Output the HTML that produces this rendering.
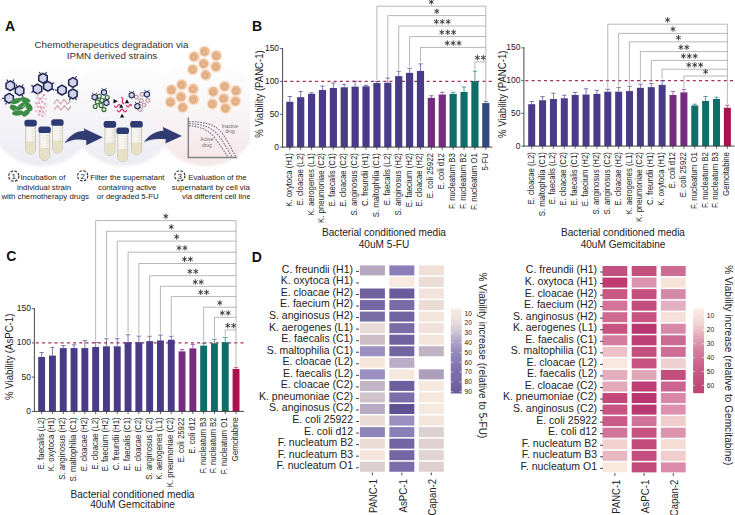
<!DOCTYPE html><html><head><meta charset="utf-8"><style>html,body{margin:0;padding:0;background:#fff;}svg{display:block;}text{font-family:"Liberation Sans", sans-serif;}</style></head><body>
<svg width="735" height="515" viewBox="0 0 735 515">
<rect x="0.00" y="0.00" width="735.00" height="515.00" fill="#fff"/>
<text x="5.00" y="31.00" font-size="14" text-anchor="start" fill="#111" font-weight="bold">A</text>
<text x="251.90" y="31.00" font-size="14" text-anchor="start" fill="#111" font-weight="bold">B</text>
<text x="6.30" y="261.30" font-size="14" text-anchor="start" fill="#111" font-weight="bold">C</text>
<text x="251.70" y="261.90" font-size="14" text-anchor="start" fill="#111" font-weight="bold">D</text>
<defs><clipPath id="clipA"><rect x="0" y="0" width="250" height="215"/></clipPath></defs><g clip-path="url(#clipA)">
<defs><linearGradient id="bg12" x1="0" y1="0" x2="0" y2="1"><stop offset="0" stop-color="#ffffff"/><stop offset="0.45" stop-color="#f6f6f9"/><stop offset="1" stop-color="#ebebf2"/></linearGradient><linearGradient id="bg3" x1="0" y1="0" x2="0" y2="1"><stop offset="0" stop-color="#ffffff"/><stop offset="0.45" stop-color="#f9f6f7"/><stop offset="1" stop-color="#f4e6e9"/></linearGradient><filter id="blr" x="-20%" y="-20%" width="140%" height="140%"><feGaussianBlur stdDeviation="1.6"/></filter></defs>
<g filter="url(#blr)">
<circle cx="41.5" cy="112" r="54" fill="url(#bg12)"/>
<circle cx="123.5" cy="112" r="54" fill="url(#bg12)"/>
<circle cx="206" cy="112" r="54" fill="url(#bg3)"/>
</g>
<text x="111.50" y="48.00" font-size="9.75" text-anchor="middle" fill="#333" font-weight="normal">Chemotherapeutics degradation via</text>
<text x="112.00" y="59.00" font-size="9.75" text-anchor="middle" fill="#333" font-weight="normal">IPMN derived strains</text>
<polygon points="10.30,80.90 14.54,83.35 14.54,88.25 10.30,90.70 6.06,88.25 6.06,83.35" fill="#d2d4ec" stroke="#1d2450" stroke-width="1.5" stroke-linejoin="round"/>
<line x1="7.85" y1="81.56" x2="6.70" y2="79.56" stroke="#1d2450" stroke-width="1.1"/>
<line x1="12.75" y1="81.56" x2="13.90" y2="79.56" stroke="#1d2450" stroke-width="1.1"/>
<polygon points="19.60,85.80 23.84,88.25 23.84,93.15 19.60,95.60 15.36,93.15 15.36,88.25" fill="#d2d4ec" stroke="#1d2450" stroke-width="1.5" stroke-linejoin="round"/>
<line x1="17.15" y1="86.46" x2="16.00" y2="84.46" stroke="#1d2450" stroke-width="1.1"/>
<line x1="22.05" y1="86.46" x2="23.20" y2="84.46" stroke="#1d2450" stroke-width="1.1"/>
<line x1="22.05" y1="94.94" x2="23.20" y2="96.94" stroke="#1d2450" stroke-width="1.1"/>
<polygon points="9.20,93.40 13.44,95.85 13.44,100.75 9.20,103.20 4.96,100.75 4.96,95.85" fill="#d2d4ec" stroke="#1d2450" stroke-width="1.5" stroke-linejoin="round"/>
<line x1="6.75" y1="102.54" x2="5.60" y2="104.54" stroke="#1d2450" stroke-width="1.1"/>
<line x1="4.30" y1="98.30" x2="2.00" y2="98.30" stroke="#1d2450" stroke-width="1.1"/>
<polygon points="43.00,73.30 47.24,75.75 47.24,80.65 43.00,83.10 38.76,80.65 38.76,75.75" fill="#d2d4ec" stroke="#1d2450" stroke-width="1.5" stroke-linejoin="round"/>
<line x1="40.55" y1="73.96" x2="39.40" y2="71.96" stroke="#1d2450" stroke-width="1.1"/>
<line x1="45.45" y1="73.96" x2="46.60" y2="71.96" stroke="#1d2450" stroke-width="1.1"/>
<polygon points="37.50,84.10 41.74,86.55 41.74,91.45 37.50,93.90 33.26,91.45 33.26,86.55" fill="#d2d4ec" stroke="#1d2450" stroke-width="1.5" stroke-linejoin="round"/>
<line x1="33.26" y1="86.55" x2="31.26" y2="85.40" stroke="#1d2450" stroke-width="1.1"/>
<line x1="33.26" y1="91.45" x2="31.26" y2="92.60" stroke="#1d2450" stroke-width="1.1"/>
<polygon points="47.90,81.40 52.14,83.85 52.14,88.75 47.90,91.20 43.66,88.75 43.66,83.85" fill="#d2d4ec" stroke="#1d2450" stroke-width="1.5" stroke-linejoin="round"/>
<line x1="52.14" y1="83.85" x2="54.14" y2="82.70" stroke="#1d2450" stroke-width="1.1"/>
<line x1="52.14" y1="88.75" x2="54.14" y2="89.90" stroke="#1d2450" stroke-width="1.1"/>
<polygon points="62.00,85.20 66.24,87.65 66.24,92.55 62.00,95.00 57.76,92.55 57.76,87.65" fill="#d2d4ec" stroke="#1d2450" stroke-width="1.5" stroke-linejoin="round"/>
<line x1="57.10" y1="90.10" x2="54.80" y2="90.10" stroke="#1d2450" stroke-width="1.1"/>
<polygon points="72.90,77.60 77.14,80.05 77.14,84.95 72.90,87.40 68.66,84.95 68.66,80.05" fill="#d2d4ec" stroke="#1d2450" stroke-width="1.5" stroke-linejoin="round"/>
<line x1="75.35" y1="78.26" x2="76.50" y2="76.26" stroke="#1d2450" stroke-width="1.1"/>
<polygon points="72.90,89.00 77.14,91.45 77.14,96.35 72.90,98.80 68.66,96.35 68.66,91.45" fill="#d2d4ec" stroke="#1d2450" stroke-width="1.5" stroke-linejoin="round"/>
<line x1="75.35" y1="98.14" x2="76.50" y2="100.14" stroke="#1d2450" stroke-width="1.1"/>
<line x1="70.45" y1="98.14" x2="69.30" y2="100.14" stroke="#1d2450" stroke-width="1.1"/>
<g fill="#3d8b44"><ellipse cx="16" cy="101" rx="5.5" ry="2.6" transform="rotate(-20 16 101)"/><ellipse cx="25" cy="100" rx="5.5" ry="2.6" transform="rotate(15 25 100)"/><ellipse cx="14" cy="108" rx="4.5" ry="2.8" transform="rotate(30 14 108)"/><ellipse cx="22" cy="106" rx="6" ry="2.8" transform="rotate(-35 22 106)"/><ellipse cx="29" cy="107" rx="4.5" ry="3" transform="rotate(60 29 107)"/><ellipse cx="18" cy="113" rx="6" ry="2.6" transform="rotate(-5 18 113)"/><ellipse cx="26" cy="113" rx="4.5" ry="2.6" transform="rotate(-40 26 113)"/></g>
<g fill="#8fcf8f" opacity="0.8"><ellipse cx="24" cy="106" rx="2.2" ry="0.8" transform="rotate(-50 24 106)"/><ellipse cx="16" cy="110" rx="1.8" ry="0.7"/><ellipse cx="21" cy="101" rx="1.6" ry="0.7"/></g>
<g fill="#de7f9a" opacity="0.85"><circle cx="38" cy="94" r="0.9"/><circle cx="41" cy="93" r="0.8"/><circle cx="44" cy="95" r="0.9"/><circle cx="37" cy="98" r="0.9"/><circle cx="40" cy="99" r="1.1"/><circle cx="43" cy="98" r="0.8"/><circle cx="46" cy="99" r="0.8"/><circle cx="36" cy="103" r="0.9"/><circle cx="39" cy="103" r="1.0"/><circle cx="42" cy="102" r="0.9"/><circle cx="45" cy="104" r="0.8"/><circle cx="38" cy="107" r="0.9"/><circle cx="41" cy="107" r="1.1"/><circle cx="44" cy="108" r="0.9"/><circle cx="36" cy="111" r="0.8"/><circle cx="40" cy="111" r="1.0"/><circle cx="43" cy="112" r="0.9"/><circle cx="46" cy="111" r="0.7"/><circle cx="39" cy="115" r="0.9"/><circle cx="42" cy="116" r="0.8"/><circle cx="45" cy="114" r="0.7"/><circle cx="35" cy="107" r="0.6"/><circle cx="47" cy="106" r="0.6"/></g>
<g stroke="#d8809a" stroke-width="0.6" fill="none" opacity="0.8"><path d="M37,95 L45,104 M44,94 L37,104 M36,104 L45,113 M46,103 L38,114 M38,110 L44,117"/></g>
<g stroke="#cfa2ac" stroke-width="1.2" fill="none" stroke-linejoin="round"><path d="M53.5,104 l3.5,-4.5 l3.5,4.5 l3.5,-4.5 l3.5,4.5 l3,-3.5"/><path d="M54,110 l3.5,-4.5 l3.5,4.5 l3.5,-4.5 l3.5,4.5 l3,-3.5"/></g>
<path d="M25.70,125.80 L25.70,149.40 A4.90,4.90 0 0 0 35.50,149.40 L35.50,125.80 Z" fill="#f5f3ee" stroke="#c4bcab" stroke-width="0.8"/>
<path d="M26.10,141.47 L26.10,149.40 A4.50,4.50 0 0 0 35.10,149.40 L35.10,141.47 Z" fill="#e8e0c4"/>
<line x1="32.30" y1="128.80" x2="34.50" y2="128.80" stroke="#c9c1ad" stroke-width="0.5"/>
<line x1="32.30" y1="131.40" x2="34.50" y2="131.40" stroke="#c9c1ad" stroke-width="0.5"/>
<line x1="32.30" y1="134.00" x2="34.50" y2="134.00" stroke="#c9c1ad" stroke-width="0.5"/>
<line x1="32.30" y1="136.60" x2="34.50" y2="136.60" stroke="#c9c1ad" stroke-width="0.5"/>
<line x1="32.30" y1="139.20" x2="34.50" y2="139.20" stroke="#c9c1ad" stroke-width="0.5"/>
<line x1="32.30" y1="141.80" x2="34.50" y2="141.80" stroke="#c9c1ad" stroke-width="0.5"/>
<rect x="24.40" y="119.80" width="12.40" height="6.6" rx="2.6" fill="#2e3a72"/>
<path d="M39.70,132.50 L39.70,155.60 A4.90,4.90 0 0 0 49.50,155.60 L49.50,132.50 Z" fill="#f5f3ee" stroke="#c4bcab" stroke-width="0.8"/>
<path d="M40.10,147.90 L40.10,155.60 A4.50,4.50 0 0 0 49.10,155.60 L49.10,147.90 Z" fill="#e8e0c4"/>
<line x1="46.30" y1="135.50" x2="48.50" y2="135.50" stroke="#c9c1ad" stroke-width="0.5"/>
<line x1="46.30" y1="138.10" x2="48.50" y2="138.10" stroke="#c9c1ad" stroke-width="0.5"/>
<line x1="46.30" y1="140.70" x2="48.50" y2="140.70" stroke="#c9c1ad" stroke-width="0.5"/>
<line x1="46.30" y1="143.30" x2="48.50" y2="143.30" stroke="#c9c1ad" stroke-width="0.5"/>
<line x1="46.30" y1="145.90" x2="48.50" y2="145.90" stroke="#c9c1ad" stroke-width="0.5"/>
<line x1="46.30" y1="148.50" x2="48.50" y2="148.50" stroke="#c9c1ad" stroke-width="0.5"/>
<rect x="38.40" y="126.50" width="12.40" height="6.6" rx="2.6" fill="#2e3a72"/>
<path d="M52.50,125.20 L52.50,148.30 A4.90,4.90 0 0 0 62.30,148.30 L62.30,125.20 Z" fill="#f5f3ee" stroke="#c4bcab" stroke-width="0.8"/>
<path d="M52.90,140.60 L52.90,148.30 A4.50,4.50 0 0 0 61.90,148.30 L61.90,140.60 Z" fill="#e8e0c4"/>
<line x1="59.10" y1="128.20" x2="61.30" y2="128.20" stroke="#c9c1ad" stroke-width="0.5"/>
<line x1="59.10" y1="130.80" x2="61.30" y2="130.80" stroke="#c9c1ad" stroke-width="0.5"/>
<line x1="59.10" y1="133.40" x2="61.30" y2="133.40" stroke="#c9c1ad" stroke-width="0.5"/>
<line x1="59.10" y1="136.00" x2="61.30" y2="136.00" stroke="#c9c1ad" stroke-width="0.5"/>
<line x1="59.10" y1="138.60" x2="61.30" y2="138.60" stroke="#c9c1ad" stroke-width="0.5"/>
<line x1="59.10" y1="141.20" x2="61.30" y2="141.20" stroke="#c9c1ad" stroke-width="0.5"/>
<rect x="51.20" y="119.20" width="12.40" height="6.6" rx="2.6" fill="#2e3a72"/>
<path d="M104.90,127.10 L104.90,150.60 A5.00,5.00 0 0 0 114.90,150.60 L114.90,127.10 Z" fill="#f5f3ee" stroke="#c4bcab" stroke-width="0.8"/>
<path d="M105.30,142.78 L105.30,150.60 A4.60,4.60 0 0 0 114.50,150.60 L114.50,142.78 Z" fill="#e8e0c4"/>
<line x1="111.70" y1="130.10" x2="113.90" y2="130.10" stroke="#c9c1ad" stroke-width="0.5"/>
<line x1="111.70" y1="132.70" x2="113.90" y2="132.70" stroke="#c9c1ad" stroke-width="0.5"/>
<line x1="111.70" y1="135.30" x2="113.90" y2="135.30" stroke="#c9c1ad" stroke-width="0.5"/>
<line x1="111.70" y1="137.90" x2="113.90" y2="137.90" stroke="#c9c1ad" stroke-width="0.5"/>
<line x1="111.70" y1="140.50" x2="113.90" y2="140.50" stroke="#c9c1ad" stroke-width="0.5"/>
<line x1="111.70" y1="143.10" x2="113.90" y2="143.10" stroke="#c9c1ad" stroke-width="0.5"/>
<rect x="103.60" y="121.10" width="12.60" height="6.6" rx="2.6" fill="#2e3a72"/>
<path d="M117.70,133.40 L117.70,156.70 A5.00,5.00 0 0 0 127.70,156.70 L127.70,133.40 Z" fill="#f5f3ee" stroke="#c4bcab" stroke-width="0.8"/>
<path d="M118.10,148.97 L118.10,156.70 A4.60,4.60 0 0 0 127.30,156.70 L127.30,148.97 Z" fill="#e8e0c4"/>
<line x1="124.50" y1="136.40" x2="126.70" y2="136.40" stroke="#c9c1ad" stroke-width="0.5"/>
<line x1="124.50" y1="139.00" x2="126.70" y2="139.00" stroke="#c9c1ad" stroke-width="0.5"/>
<line x1="124.50" y1="141.60" x2="126.70" y2="141.60" stroke="#c9c1ad" stroke-width="0.5"/>
<line x1="124.50" y1="144.20" x2="126.70" y2="144.20" stroke="#c9c1ad" stroke-width="0.5"/>
<line x1="124.50" y1="146.80" x2="126.70" y2="146.80" stroke="#c9c1ad" stroke-width="0.5"/>
<line x1="124.50" y1="149.40" x2="126.70" y2="149.40" stroke="#c9c1ad" stroke-width="0.5"/>
<rect x="116.40" y="127.40" width="12.60" height="6.6" rx="2.6" fill="#2e3a72"/>
<path d="M131.50,127.00 L131.50,150.00 A5.00,5.00 0 0 0 141.50,150.00 L141.50,127.00 Z" fill="#f5f3ee" stroke="#c4bcab" stroke-width="0.8"/>
<path d="M131.90,142.40 L131.90,150.00 A4.60,4.60 0 0 0 141.10,150.00 L141.10,142.40 Z" fill="#e8e0c4"/>
<line x1="138.30" y1="130.00" x2="140.50" y2="130.00" stroke="#c9c1ad" stroke-width="0.5"/>
<line x1="138.30" y1="132.60" x2="140.50" y2="132.60" stroke="#c9c1ad" stroke-width="0.5"/>
<line x1="138.30" y1="135.20" x2="140.50" y2="135.20" stroke="#c9c1ad" stroke-width="0.5"/>
<line x1="138.30" y1="137.80" x2="140.50" y2="137.80" stroke="#c9c1ad" stroke-width="0.5"/>
<line x1="138.30" y1="140.40" x2="140.50" y2="140.40" stroke="#c9c1ad" stroke-width="0.5"/>
<line x1="138.30" y1="143.00" x2="140.50" y2="143.00" stroke="#c9c1ad" stroke-width="0.5"/>
<rect x="130.20" y="121.00" width="12.60" height="6.6" rx="2.6" fill="#2e3a72"/>
<path d="M64.5,143.2 C70,135 77,130.5 84.5,131 L83.5,128.2 L102.8,137.3 L86.2,145.2 L86.3,140.2 C78,138.5 70.5,139.5 64.5,143.2 Z" fill="#313d72"/>
<path d="M144.1,142.2 C149,135 155,131.2 163.3,130.8 L163.0,127.1 L182.0,136.1 L165.4,143.6 L165.8,139.3 C157,138.4 150,139 144.1,142.2 Z" fill="#313d72"/>
<circle cx="97.4" cy="101.9" r="2.0" fill="#e8f0e6" stroke="#2b6a2e" stroke-width="1.1"/>
<circle cx="101.2" cy="105.5" r="2.0" fill="#e8f0e6" stroke="#2b6a2e" stroke-width="1.1"/>
<circle cx="104" cy="109.6" r="2.0" fill="#e8f0e6" stroke="#2b6a2e" stroke-width="1.1"/>
<circle cx="95.2" cy="106.5" r="2.0" fill="#e8f0e6" stroke="#2b6a2e" stroke-width="1.1"/>
<circle cx="99.3" cy="96.2" r="2.0" fill="#e8f0e6" stroke="#2b6a2e" stroke-width="1.1"/>
<circle cx="107.2" cy="97.5" r="2.0" fill="#e8f0e6" stroke="#2b6a2e" stroke-width="1.1"/>
<circle cx="102" cy="100.5" r="2.0" fill="#e8f0e6" stroke="#2b6a2e" stroke-width="1.1"/>
<polygon points="94.50,94.20 97.01,95.65 97.01,98.55 94.50,100.00 91.99,98.55 91.99,95.65" fill="#d2d4ec" stroke="#1d2450" stroke-width="1.1" stroke-linejoin="round"/>
<path d="M93.0,94.19999999999999 l-0.8,-1.6 M96.0,94.19999999999999 l0.8,-1.6" stroke="#1d2450" stroke-width="0.8"/>
<polygon points="104.00,89.50 106.51,90.95 106.51,93.85 104.00,95.30 101.49,93.85 101.49,90.95" fill="#d2d4ec" stroke="#1d2450" stroke-width="1.1" stroke-linejoin="round"/>
<path d="M102.5,89.5 l-0.8,-1.6 M105.5,89.5 l0.8,-1.6" stroke="#1d2450" stroke-width="0.8"/>
<polygon points="106.40,100.00 108.91,101.45 108.91,104.35 106.40,105.80 103.89,104.35 103.89,101.45" fill="#d2d4ec" stroke="#1d2450" stroke-width="1.1" stroke-linejoin="round"/>
<path d="M104.9,100.0 l-0.8,-1.6 M107.9,100.0 l0.8,-1.6" stroke="#1d2450" stroke-width="0.8"/>
<circle cx="136.4" cy="97.1" r="2.0" fill="#f3e6ea" stroke="#b48896" stroke-width="1.0"/>
<circle cx="142.1" cy="94.3" r="2.0" fill="#f3e6ea" stroke="#b48896" stroke-width="1.0"/>
<circle cx="141.2" cy="100.5" r="2.0" fill="#f3e6ea" stroke="#b48896" stroke-width="1.0"/>
<circle cx="147.9" cy="100.5" r="2.0" fill="#f3e6ea" stroke="#b48896" stroke-width="1.0"/>
<circle cx="144" cy="105" r="2.0" fill="#f3e6ea" stroke="#b48896" stroke-width="1.0"/>
<circle cx="140.2" cy="109.5" r="2.0" fill="#f3e6ea" stroke="#b48896" stroke-width="1.0"/>
<polygon points="131.70,92.30 134.21,93.75 134.21,96.65 131.70,98.10 129.19,96.65 129.19,93.75" fill="#d2d4ec" stroke="#1d2450" stroke-width="1.1" stroke-linejoin="round"/>
<path d="M130.2,92.3 l-0.8,-1.6 M133.2,92.3 l0.8,-1.6" stroke="#1d2450" stroke-width="0.8"/>
<polygon points="146.90,91.40 149.41,92.85 149.41,95.75 146.90,97.20 144.39,95.75 144.39,92.85" fill="#d2d4ec" stroke="#1d2450" stroke-width="1.1" stroke-linejoin="round"/>
<path d="M145.4,91.39999999999999 l-0.8,-1.6 M148.4,91.39999999999999 l0.8,-1.6" stroke="#1d2450" stroke-width="0.8"/>
<polygon points="137.40,103.30 139.91,104.75 139.91,107.65 137.40,109.10 134.89,107.65 134.89,104.75" fill="#d2d4ec" stroke="#1d2450" stroke-width="1.1" stroke-linejoin="round"/>
<path d="M135.9,103.3 l-0.8,-1.6 M138.9,103.3 l0.8,-1.6" stroke="#1d2450" stroke-width="0.8"/>
<g stroke="#d42f6a" stroke-width="1.3" fill="none" stroke-linecap="round"><path d="M114.5,106 q1.5,2.8 3,0 q1.5,-2.8 3,0 M121.5,97.5 q2.2,1 1,3 q-1,2 1.2,3.2 M126.5,105.5 q1.5,2.8 3,0 q1,-2 2,0 M117.5,110.5 q1.5,2.8 3,0 q1.5,-2.8 3,0 q1.5,2.8 3,0"/></g>
<g fill="#111"><polygon points="113.5,99 117.8,101.2 113.5,103.5"/><polygon points="119.2,107.8 121.2,104 123.2,107.8"/><polygon points="124.8,103.2 127,99.2 129.2,103.2"/><polygon points="120,117.6 122.1,113.8 124.2,117.6"/></g>
<circle cx="204.60" cy="51.50" r="6.00" fill="#f8e4d4"/>
<circle cx="204.60" cy="51.50" r="4.70" fill="#e9b88e"/>
<circle cx="204.10" cy="52.00" r="2.5" fill="none" stroke="#c99670" stroke-width="0.8" opacity="0.7"/>
<circle cx="194.10" cy="56.70" r="6.00" fill="#f8e4d4"/>
<circle cx="194.10" cy="56.70" r="4.70" fill="#e9b88e"/>
<circle cx="193.60" cy="57.20" r="2.5" fill="none" stroke="#c99670" stroke-width="0.8" opacity="0.7"/>
<circle cx="216.30" cy="55.80" r="6.00" fill="#f8e4d4"/>
<circle cx="216.30" cy="55.80" r="4.70" fill="#e9b88e"/>
<circle cx="215.80" cy="56.30" r="2.5" fill="none" stroke="#c99670" stroke-width="0.8" opacity="0.7"/>
<circle cx="203.70" cy="63.70" r="6.00" fill="#f8e4d4"/>
<circle cx="203.70" cy="63.70" r="4.70" fill="#e9b88e"/>
<circle cx="203.20" cy="64.20" r="2.5" fill="none" stroke="#c99670" stroke-width="0.8" opacity="0.7"/>
<circle cx="215.90" cy="66.80" r="6.00" fill="#f8e4d4"/>
<circle cx="215.90" cy="66.80" r="4.70" fill="#e9b88e"/>
<circle cx="215.40" cy="67.30" r="2.5" fill="none" stroke="#c99670" stroke-width="0.8" opacity="0.7"/>
<circle cx="192.70" cy="69.50" r="6.00" fill="#f8e4d4"/>
<circle cx="192.70" cy="69.50" r="4.70" fill="#e9b88e"/>
<circle cx="192.20" cy="70.00" r="2.5" fill="none" stroke="#c99670" stroke-width="0.8" opacity="0.7"/>
<circle cx="205.80" cy="75.00" r="6.00" fill="#f8e4d4"/>
<circle cx="205.80" cy="75.00" r="4.70" fill="#e9b88e"/>
<circle cx="205.30" cy="75.50" r="2.5" fill="none" stroke="#c99670" stroke-width="0.8" opacity="0.7"/>
<circle cx="171.40" cy="89.90" r="6.00" fill="#f8e4d4"/>
<circle cx="171.40" cy="89.90" r="4.70" fill="#e9b88e"/>
<circle cx="170.90" cy="90.40" r="2.5" fill="none" stroke="#c99670" stroke-width="0.8" opacity="0.7"/>
<circle cx="181.80" cy="84.70" r="6.00" fill="#f8e4d4"/>
<circle cx="181.80" cy="84.70" r="4.70" fill="#e9b88e"/>
<circle cx="181.30" cy="85.20" r="2.5" fill="none" stroke="#c99670" stroke-width="0.8" opacity="0.7"/>
<circle cx="193.20" cy="89.00" r="6.00" fill="#f8e4d4"/>
<circle cx="193.20" cy="89.00" r="4.70" fill="#e9b88e"/>
<circle cx="192.70" cy="89.50" r="2.5" fill="none" stroke="#c99670" stroke-width="0.8" opacity="0.7"/>
<circle cx="181.00" cy="96.90" r="6.00" fill="#f8e4d4"/>
<circle cx="181.00" cy="96.90" r="4.70" fill="#e9b88e"/>
<circle cx="180.50" cy="97.40" r="2.5" fill="none" stroke="#c99670" stroke-width="0.8" opacity="0.7"/>
<circle cx="193.60" cy="99.50" r="6.00" fill="#f8e4d4"/>
<circle cx="193.60" cy="99.50" r="4.70" fill="#e9b88e"/>
<circle cx="193.10" cy="100.00" r="2.5" fill="none" stroke="#c99670" stroke-width="0.8" opacity="0.7"/>
<circle cx="170.50" cy="102.10" r="6.00" fill="#f8e4d4"/>
<circle cx="170.50" cy="102.10" r="4.70" fill="#e9b88e"/>
<circle cx="170.00" cy="102.60" r="2.5" fill="none" stroke="#c99670" stroke-width="0.8" opacity="0.7"/>
<circle cx="182.70" cy="107.40" r="6.00" fill="#f8e4d4"/>
<circle cx="182.70" cy="107.40" r="4.70" fill="#e9b88e"/>
<circle cx="182.20" cy="107.90" r="2.5" fill="none" stroke="#c99670" stroke-width="0.8" opacity="0.7"/>
<circle cx="213.30" cy="91.70" r="6.00" fill="#f8e4d4"/>
<circle cx="213.30" cy="91.70" r="4.70" fill="#e9b88e"/>
<circle cx="212.80" cy="92.20" r="2.5" fill="none" stroke="#c99670" stroke-width="0.8" opacity="0.7"/>
<circle cx="224.70" cy="86.40" r="6.00" fill="#f8e4d4"/>
<circle cx="224.70" cy="86.40" r="4.70" fill="#e9b88e"/>
<circle cx="224.20" cy="86.90" r="2.5" fill="none" stroke="#c99670" stroke-width="0.8" opacity="0.7"/>
<circle cx="236.00" cy="90.80" r="6.00" fill="#f8e4d4"/>
<circle cx="236.00" cy="90.80" r="4.70" fill="#e9b88e"/>
<circle cx="235.50" cy="91.30" r="2.5" fill="none" stroke="#c99670" stroke-width="0.8" opacity="0.7"/>
<circle cx="223.80" cy="98.60" r="6.00" fill="#f8e4d4"/>
<circle cx="223.80" cy="98.60" r="4.70" fill="#e9b88e"/>
<circle cx="223.30" cy="99.10" r="2.5" fill="none" stroke="#c99670" stroke-width="0.8" opacity="0.7"/>
<circle cx="235.50" cy="101.30" r="6.00" fill="#f8e4d4"/>
<circle cx="235.50" cy="101.30" r="4.70" fill="#e9b88e"/>
<circle cx="235.00" cy="101.80" r="2.5" fill="none" stroke="#c99670" stroke-width="0.8" opacity="0.7"/>
<circle cx="212.40" cy="103.90" r="6.00" fill="#f8e4d4"/>
<circle cx="212.40" cy="103.90" r="4.70" fill="#e9b88e"/>
<circle cx="211.90" cy="104.40" r="2.5" fill="none" stroke="#c99670" stroke-width="0.8" opacity="0.7"/>
<circle cx="225.50" cy="108.30" r="6.00" fill="#f8e4d4"/>
<circle cx="225.50" cy="108.30" r="4.70" fill="#e9b88e"/>
<circle cx="225.00" cy="108.80" r="2.5" fill="none" stroke="#c99670" stroke-width="0.8" opacity="0.7"/>
<defs><linearGradient id="gbg" x1="0" y1="0" x2="0" y2="1"><stop offset="0" stop-color="#f7f2f4"/><stop offset="1" stop-color="#f6e6e8"/></linearGradient></defs>
<rect x="188.5" y="117" width="50" height="41" fill="url(#gbg)"/>
<g fill="none" stroke="#6f7486" stroke-width="1.05" stroke-dasharray="1.7,1.1"><path d="M189,121.7 C203,121.8 214,123 222,133 C228,141 232,150 236,157"/><path d="M189,123.7 C201,124 211,126 219,136 C224,143 228,150 232,157"/><path d="M189,125.7 C199,126.5 208,129 215,138 C220,145 224,151 228,157"/></g>
<line x1="188.30" y1="117.30" x2="188.30" y2="158.20" stroke="#868686" stroke-width="1.5"/>
<line x1="187.60" y1="157.60" x2="237.00" y2="157.60" stroke="#868686" stroke-width="1.5"/>
<text x="230.00" y="127.60" font-size="4.8" text-anchor="middle" fill="#6a6a6a" font-weight="normal">Inactive</text>
<text x="230.00" y="133.20" font-size="4.8" text-anchor="middle" fill="#6a6a6a" font-weight="normal">drug</text>
<text x="206.80" y="141.20" font-size="4.8" text-anchor="middle" fill="#6a6a6a" font-weight="normal">Active</text>
<text x="206.80" y="147.20" font-size="4.8" text-anchor="middle" fill="#6a6a6a" font-weight="normal">drug</text>
<circle cx="13.80" cy="176.10" r="5.1" fill="none" stroke="#2a2a2a" stroke-width="1.15" stroke-dasharray="2.6,1.4"/>
<text x="13.80" y="179.00" font-size="8.0" text-anchor="middle" fill="#222" font-weight="normal">1</text>
<circle cx="82.70" cy="175.80" r="5.1" fill="none" stroke="#2a2a2a" stroke-width="1.15" stroke-dasharray="2.6,1.4"/>
<text x="82.70" y="178.70" font-size="8.0" text-anchor="middle" fill="#222" font-weight="normal">2</text>
<circle cx="179.80" cy="175.80" r="5.1" fill="none" stroke="#2a2a2a" stroke-width="1.15" stroke-dasharray="2.6,1.4"/>
<text x="179.80" y="178.70" font-size="8.0" text-anchor="middle" fill="#222" font-weight="normal">3</text>
<text x="20.40" y="180.00" font-size="7.85" text-anchor="start" fill="#222" font-weight="normal">Incubation of</text>
<text x="44.00" y="189.50" font-size="7.85" text-anchor="middle" fill="#222" font-weight="normal">individual strain</text>
<text x="45.20" y="198.50" font-size="7.85" text-anchor="middle" fill="#222" font-weight="normal">with chemotherapy drugs</text>
<text x="90.30" y="180.00" font-size="7.85" text-anchor="start" fill="#222" font-weight="normal">Filter the supernatant</text>
<text x="127.20" y="189.50" font-size="7.85" text-anchor="middle" fill="#222" font-weight="normal">containing active</text>
<text x="127.80" y="198.50" font-size="7.85" text-anchor="middle" fill="#222" font-weight="normal">or degraded 5-FU</text>
<text x="188.20" y="180.00" font-size="7.85" text-anchor="start" fill="#222" font-weight="normal">Evaluation of the</text>
<text x="171.80" y="189.50" font-size="7.85" text-anchor="start" fill="#222" font-weight="normal">supernatant by cell viability</text>
<text x="182.00" y="198.50" font-size="7.85" text-anchor="start" fill="#222" font-weight="normal">via different cell lines</text>
</g>
<line x1="284.10" y1="81.40" x2="492.50" y2="81.40" stroke="#a52d5a" stroke-width="1.3" stroke-dasharray="3.0,3.2"/>
<rect x="286.20" y="101.77" width="7.20" height="45.33" fill="#4a3b88"/>
<line x1="289.80" y1="96.51" x2="289.80" y2="101.77" stroke="#4a3b88" stroke-width="0.9" stroke-opacity="0.75"/>
<line x1="287.60" y1="96.51" x2="292.00" y2="96.51" stroke="#4a3b88" stroke-width="0.9" stroke-opacity="0.75"/>
<line x1="289.80" y1="147.10" x2="289.80" y2="149.70" stroke="#333" stroke-width="0.8"/>
<text x="291.80" y="153.10" font-size="8.6" text-anchor="end" fill="#222" font-weight="normal" transform="rotate(-90 291.8 153.1)" textLength="53.75" lengthAdjust="spacingAndGlyphs">K. oxytoca (H1)</text>
<rect x="297.09" y="97.17" width="7.20" height="49.93" fill="#4a3b88"/>
<line x1="300.69" y1="91.58" x2="300.69" y2="97.17" stroke="#4a3b88" stroke-width="0.9" stroke-opacity="0.75"/>
<line x1="298.49" y1="91.58" x2="302.89" y2="91.58" stroke="#4a3b88" stroke-width="0.9" stroke-opacity="0.75"/>
<line x1="300.69" y1="147.10" x2="300.69" y2="149.70" stroke="#333" stroke-width="0.8"/>
<text x="302.69" y="153.10" font-size="8.6" text-anchor="end" fill="#222" font-weight="normal" transform="rotate(-90 302.69 153.1)" textLength="52.46" lengthAdjust="spacingAndGlyphs">E. cloacae (L2)</text>
<rect x="307.98" y="93.88" width="7.20" height="53.22" fill="#4a3b88"/>
<line x1="311.58" y1="92.83" x2="311.58" y2="93.88" stroke="#4a3b88" stroke-width="0.9" stroke-opacity="0.75"/>
<line x1="309.38" y1="92.83" x2="313.78" y2="92.83" stroke="#4a3b88" stroke-width="0.9" stroke-opacity="0.75"/>
<line x1="311.58" y1="147.10" x2="311.58" y2="149.70" stroke="#333" stroke-width="0.8"/>
<text x="313.58" y="153.10" font-size="8.6" text-anchor="end" fill="#222" font-weight="normal" transform="rotate(-90 313.58000000000004 153.1)" textLength="62.43" lengthAdjust="spacingAndGlyphs">K. aerogenes (L1)</text>
<rect x="318.87" y="89.94" width="7.20" height="57.16" fill="#4a3b88"/>
<line x1="322.47" y1="86.06" x2="322.47" y2="89.94" stroke="#4a3b88" stroke-width="0.9" stroke-opacity="0.75"/>
<line x1="320.27" y1="86.06" x2="324.67" y2="86.06" stroke="#4a3b88" stroke-width="0.9" stroke-opacity="0.75"/>
<line x1="322.47" y1="147.10" x2="322.47" y2="149.70" stroke="#333" stroke-width="0.8"/>
<text x="324.47" y="153.10" font-size="8.6" text-anchor="end" fill="#222" font-weight="normal" transform="rotate(-90 324.47 153.1)" textLength="69.80" lengthAdjust="spacingAndGlyphs">K. pneumoniae (C2)</text>
<rect x="329.76" y="87.97" width="7.20" height="59.13" fill="#4a3b88"/>
<line x1="333.36" y1="83.04" x2="333.36" y2="87.97" stroke="#4a3b88" stroke-width="0.9" stroke-opacity="0.75"/>
<line x1="331.16" y1="83.04" x2="335.56" y2="83.04" stroke="#4a3b88" stroke-width="0.9" stroke-opacity="0.75"/>
<line x1="333.36" y1="147.10" x2="333.36" y2="149.70" stroke="#333" stroke-width="0.8"/>
<text x="335.36" y="153.10" font-size="8.6" text-anchor="end" fill="#222" font-weight="normal" transform="rotate(-90 335.36 153.1)" textLength="53.31" lengthAdjust="spacingAndGlyphs">E. faecalis (C1)</text>
<rect x="340.65" y="87.31" width="7.20" height="59.79" fill="#4a3b88"/>
<line x1="344.25" y1="84.36" x2="344.25" y2="87.31" stroke="#4a3b88" stroke-width="0.9" stroke-opacity="0.75"/>
<line x1="342.05" y1="84.36" x2="346.45" y2="84.36" stroke="#4a3b88" stroke-width="0.9" stroke-opacity="0.75"/>
<line x1="344.25" y1="147.10" x2="344.25" y2="149.70" stroke="#333" stroke-width="0.8"/>
<text x="346.25" y="153.10" font-size="8.6" text-anchor="end" fill="#222" font-weight="normal" transform="rotate(-90 346.25 153.1)" textLength="53.75" lengthAdjust="spacingAndGlyphs">E. cloacae (C2)</text>
<rect x="351.54" y="86.66" width="7.20" height="60.44" fill="#4a3b88"/>
<line x1="355.14" y1="81.20" x2="355.14" y2="86.66" stroke="#4a3b88" stroke-width="0.9" stroke-opacity="0.75"/>
<line x1="352.94" y1="81.20" x2="357.34" y2="81.20" stroke="#4a3b88" stroke-width="0.9" stroke-opacity="0.75"/>
<line x1="355.14" y1="147.10" x2="355.14" y2="149.70" stroke="#333" stroke-width="0.8"/>
<text x="357.14" y="153.10" font-size="8.6" text-anchor="end" fill="#222" font-weight="normal" transform="rotate(-90 357.14 153.1)" textLength="62.43" lengthAdjust="spacingAndGlyphs">S. anginosus (C2)</text>
<rect x="362.43" y="86.33" width="7.20" height="60.77" fill="#4a3b88"/>
<line x1="366.03" y1="85.34" x2="366.03" y2="86.33" stroke="#4a3b88" stroke-width="0.9" stroke-opacity="0.75"/>
<line x1="363.83" y1="85.34" x2="368.23" y2="85.34" stroke="#4a3b88" stroke-width="0.9" stroke-opacity="0.75"/>
<line x1="366.03" y1="147.10" x2="366.03" y2="149.70" stroke="#333" stroke-width="0.8"/>
<text x="368.03" y="153.10" font-size="8.6" text-anchor="end" fill="#222" font-weight="normal" transform="rotate(-90 368.03000000000003 153.1)" textLength="52.88" lengthAdjust="spacingAndGlyphs">C. freundii (H1)</text>
<rect x="373.32" y="83.04" width="7.20" height="64.06" fill="#4a3b88"/>
<line x1="376.92" y1="81.47" x2="376.92" y2="83.04" stroke="#4a3b88" stroke-width="0.9" stroke-opacity="0.75"/>
<line x1="374.72" y1="81.47" x2="379.12" y2="81.47" stroke="#4a3b88" stroke-width="0.9" stroke-opacity="0.75"/>
<line x1="376.92" y1="147.10" x2="376.92" y2="149.70" stroke="#333" stroke-width="0.8"/>
<text x="378.92" y="153.10" font-size="8.6" text-anchor="end" fill="#222" font-weight="normal" transform="rotate(-90 378.92 153.1)" textLength="64.15" lengthAdjust="spacingAndGlyphs">S. maltophilia (C1)</text>
<rect x="384.21" y="82.71" width="7.20" height="64.39" fill="#4a3b88"/>
<line x1="387.81" y1="77.92" x2="387.81" y2="82.71" stroke="#4a3b88" stroke-width="0.9" stroke-opacity="0.75"/>
<line x1="385.61" y1="77.92" x2="390.01" y2="77.92" stroke="#4a3b88" stroke-width="0.9" stroke-opacity="0.75"/>
<line x1="387.81" y1="147.10" x2="387.81" y2="149.70" stroke="#333" stroke-width="0.8"/>
<text x="389.81" y="153.10" font-size="8.6" text-anchor="end" fill="#222" font-weight="normal" transform="rotate(-90 389.81 153.1)" textLength="52.02" lengthAdjust="spacingAndGlyphs">E. faecalis (L2)</text>
<rect x="395.10" y="76.14" width="7.20" height="70.96" fill="#4a3b88"/>
<line x1="398.70" y1="71.22" x2="398.70" y2="76.14" stroke="#4a3b88" stroke-width="0.9" stroke-opacity="0.75"/>
<line x1="396.50" y1="71.22" x2="400.90" y2="71.22" stroke="#4a3b88" stroke-width="0.9" stroke-opacity="0.75"/>
<line x1="398.70" y1="147.10" x2="398.70" y2="149.70" stroke="#333" stroke-width="0.8"/>
<text x="400.70" y="153.10" font-size="8.6" text-anchor="end" fill="#222" font-weight="normal" transform="rotate(-90 400.70000000000005 153.1)" textLength="62.43" lengthAdjust="spacingAndGlyphs">S. anginosus (H2)</text>
<rect x="405.99" y="72.86" width="7.20" height="74.24" fill="#4a3b88"/>
<line x1="409.59" y1="68.33" x2="409.59" y2="72.86" stroke="#4a3b88" stroke-width="0.9" stroke-opacity="0.75"/>
<line x1="407.39" y1="68.33" x2="411.79" y2="68.33" stroke="#4a3b88" stroke-width="0.9" stroke-opacity="0.75"/>
<line x1="409.59" y1="147.10" x2="409.59" y2="149.70" stroke="#333" stroke-width="0.8"/>
<text x="411.59" y="153.10" font-size="8.6" text-anchor="end" fill="#222" font-weight="normal" transform="rotate(-90 411.59000000000003 153.1)" textLength="54.18" lengthAdjust="spacingAndGlyphs">E. faecium (H2)</text>
<rect x="416.88" y="70.89" width="7.20" height="76.21" fill="#4a3b88"/>
<line x1="420.48" y1="63.86" x2="420.48" y2="70.89" stroke="#4a3b88" stroke-width="0.9" stroke-opacity="0.75"/>
<line x1="418.28" y1="63.86" x2="422.68" y2="63.86" stroke="#4a3b88" stroke-width="0.9" stroke-opacity="0.75"/>
<line x1="420.48" y1="147.10" x2="420.48" y2="149.70" stroke="#333" stroke-width="0.8"/>
<text x="422.48" y="153.10" font-size="8.6" text-anchor="end" fill="#222" font-weight="normal" transform="rotate(-90 422.48 153.1)" textLength="53.75" lengthAdjust="spacingAndGlyphs">E. cloacae (H2)</text>
<rect x="427.77" y="97.83" width="7.20" height="49.27" fill="#752c80"/>
<line x1="431.37" y1="95.72" x2="431.37" y2="97.83" stroke="#752c80" stroke-width="0.9" stroke-opacity="0.75"/>
<line x1="429.17" y1="95.72" x2="433.57" y2="95.72" stroke="#752c80" stroke-width="0.9" stroke-opacity="0.75"/>
<line x1="431.37" y1="147.10" x2="431.37" y2="149.70" stroke="#333" stroke-width="0.8"/>
<text x="433.37" y="153.10" font-size="8.6" text-anchor="end" fill="#222" font-weight="normal" transform="rotate(-90 433.37 153.1)" textLength="45.09" lengthAdjust="spacingAndGlyphs">E. coli 25922</text>
<rect x="438.66" y="94.54" width="7.20" height="52.56" fill="#752c80"/>
<line x1="442.26" y1="92.24" x2="442.26" y2="94.54" stroke="#752c80" stroke-width="0.9" stroke-opacity="0.75"/>
<line x1="440.06" y1="92.24" x2="444.46" y2="92.24" stroke="#752c80" stroke-width="0.9" stroke-opacity="0.75"/>
<line x1="442.26" y1="147.10" x2="442.26" y2="149.70" stroke="#333" stroke-width="0.8"/>
<text x="444.26" y="153.10" font-size="8.6" text-anchor="end" fill="#222" font-weight="normal" transform="rotate(-90 444.26 153.1)" textLength="36.42" lengthAdjust="spacingAndGlyphs">E. coli d12</text>
<rect x="449.55" y="93.88" width="7.20" height="53.22" fill="#106e6a"/>
<line x1="453.15" y1="92.31" x2="453.15" y2="93.88" stroke="#106e6a" stroke-width="0.9" stroke-opacity="0.75"/>
<line x1="450.95" y1="92.31" x2="455.35" y2="92.31" stroke="#106e6a" stroke-width="0.9" stroke-opacity="0.75"/>
<line x1="453.15" y1="147.10" x2="453.15" y2="149.70" stroke="#333" stroke-width="0.8"/>
<text x="455.15" y="153.10" font-size="8.6" text-anchor="end" fill="#222" font-weight="normal" transform="rotate(-90 455.15000000000003 153.1)" textLength="55.93" lengthAdjust="spacingAndGlyphs">F. nucleatum B3</text>
<rect x="460.44" y="91.91" width="7.20" height="55.19" fill="#106e6a"/>
<line x1="464.04" y1="86.98" x2="464.04" y2="91.91" stroke="#106e6a" stroke-width="0.9" stroke-opacity="0.75"/>
<line x1="461.84" y1="86.98" x2="466.24" y2="86.98" stroke="#106e6a" stroke-width="0.9" stroke-opacity="0.75"/>
<line x1="464.04" y1="147.10" x2="464.04" y2="149.70" stroke="#333" stroke-width="0.8"/>
<text x="466.04" y="153.10" font-size="8.6" text-anchor="end" fill="#222" font-weight="normal" transform="rotate(-90 466.04 153.1)" textLength="55.93" lengthAdjust="spacingAndGlyphs">F. nucleatum B2</text>
<rect x="471.33" y="81.14" width="7.20" height="65.96" fill="#106e6a"/>
<line x1="474.93" y1="71.15" x2="474.93" y2="81.14" stroke="#106e6a" stroke-width="0.9" stroke-opacity="0.75"/>
<line x1="472.73" y1="71.15" x2="477.13" y2="71.15" stroke="#106e6a" stroke-width="0.9" stroke-opacity="0.75"/>
<line x1="474.93" y1="147.10" x2="474.93" y2="149.70" stroke="#333" stroke-width="0.8"/>
<text x="476.93" y="153.10" font-size="8.6" text-anchor="end" fill="#222" font-weight="normal" transform="rotate(-90 476.93 153.1)" textLength="56.79" lengthAdjust="spacingAndGlyphs">F. nucleatum O1</text>
<rect x="482.22" y="103.08" width="7.20" height="44.02" fill="#2f4a80"/>
<line x1="485.82" y1="101.31" x2="485.82" y2="103.08" stroke="#2f4a80" stroke-width="0.9" stroke-opacity="0.75"/>
<line x1="483.62" y1="101.31" x2="488.02" y2="101.31" stroke="#2f4a80" stroke-width="0.9" stroke-opacity="0.75"/>
<line x1="485.82" y1="147.10" x2="485.82" y2="149.70" stroke="#333" stroke-width="0.8"/>
<text x="487.82" y="153.10" font-size="8.6" text-anchor="end" fill="#222" font-weight="normal" transform="rotate(-90 487.82000000000005 153.1)" textLength="17.33" lengthAdjust="spacingAndGlyphs">5-FU</text>
<line x1="282.60" y1="48.10" x2="282.60" y2="147.50" stroke="#333" stroke-width="0.9"/>
<line x1="282.20" y1="147.10" x2="492.50" y2="147.10" stroke="#333" stroke-width="0.9"/>
<line x1="280.10" y1="147.10" x2="282.60" y2="147.10" stroke="#333" stroke-width="0.8"/>
<text x="279.10" y="149.60" font-size="8.5" text-anchor="end" fill="#222" font-weight="normal">0</text>
<line x1="280.10" y1="114.25" x2="282.60" y2="114.25" stroke="#333" stroke-width="0.8"/>
<text x="279.10" y="116.75" font-size="8.5" text-anchor="end" fill="#222" font-weight="normal">50</text>
<line x1="280.10" y1="81.40" x2="282.60" y2="81.40" stroke="#333" stroke-width="0.8"/>
<text x="279.10" y="83.90" font-size="8.5" text-anchor="end" fill="#222" font-weight="normal">100</text>
<line x1="280.10" y1="48.55" x2="282.60" y2="48.55" stroke="#333" stroke-width="0.8"/>
<text x="279.10" y="51.05" font-size="8.5" text-anchor="end" fill="#222" font-weight="normal">150</text>
<text x="263.00" y="94.00" font-size="10.5" text-anchor="middle" fill="#222" font-weight="normal" transform="rotate(-90 263.0 94.0)" textLength="87.3" lengthAdjust="spacingAndGlyphs">% Viability (PANC-1)</text>
<text x="384.00" y="235.80" font-size="10.1" text-anchor="middle" fill="#222" font-weight="normal">Bacterial conditioned media</text>
<text x="384.00" y="247.50" font-size="10.1" text-anchor="middle" fill="#222" font-weight="normal">40uM 5-FU</text>
<line x1="485.82" y1="6.20" x2="485.82" y2="99.81" stroke="#9a9a9a" stroke-width="0.7"/>
<polyline points="376.92,79.97 376.92,6.20 485.82,6.20" fill="none" stroke="#9a9a9a" stroke-width="0.7"/>
<path d="M431.37,-0.80L431.37,4.60M429.03,0.55L433.71,3.25M429.03,3.25L433.71,0.55" stroke="#3a3a3a" stroke-width="0.95" fill="none"/>
<polyline points="387.81,76.42 387.81,15.60 485.82,15.60" fill="none" stroke="#9a9a9a" stroke-width="0.7"/>
<path d="M436.82,8.60L436.82,14.00M434.48,9.95L439.15,12.65M434.48,12.65L439.15,9.95" stroke="#3a3a3a" stroke-width="0.95" fill="none"/>
<polyline points="398.70,69.72 398.70,26.00 485.82,26.00" fill="none" stroke="#9a9a9a" stroke-width="0.7"/>
<path d="M436.36,19.00L436.36,24.40M434.02,20.35L438.70,23.05M434.02,23.05L438.70,20.35" stroke="#3a3a3a" stroke-width="0.95" fill="none"/>
<path d="M442.26,19.00L442.26,24.40M439.92,20.35L444.60,23.05M439.92,23.05L444.60,20.35" stroke="#3a3a3a" stroke-width="0.95" fill="none"/>
<path d="M448.16,19.00L448.16,24.40M445.82,20.35L450.50,23.05M445.82,23.05L450.50,20.35" stroke="#3a3a3a" stroke-width="0.95" fill="none"/>
<polyline points="409.59,66.83 409.59,36.60 485.82,36.60" fill="none" stroke="#9a9a9a" stroke-width="0.7"/>
<path d="M441.81,29.60L441.81,35.00M439.47,30.95L444.14,33.65M439.47,33.65L444.14,30.95" stroke="#3a3a3a" stroke-width="0.95" fill="none"/>
<path d="M447.71,29.60L447.71,35.00M445.37,30.95L450.04,33.65M445.37,33.65L450.04,30.95" stroke="#3a3a3a" stroke-width="0.95" fill="none"/>
<path d="M453.61,29.60L453.61,35.00M451.27,30.95L455.94,33.65M451.27,33.65L455.94,30.95" stroke="#3a3a3a" stroke-width="0.95" fill="none"/>
<polyline points="420.48,62.36 420.48,47.40 485.82,47.40" fill="none" stroke="#9a9a9a" stroke-width="0.7"/>
<path d="M447.25,40.40L447.25,45.80M444.91,41.75L449.59,44.45M444.91,44.45L449.59,41.75" stroke="#3a3a3a" stroke-width="0.95" fill="none"/>
<path d="M453.15,40.40L453.15,45.80M450.81,41.75L455.49,44.45M450.81,44.45L455.49,41.75" stroke="#3a3a3a" stroke-width="0.95" fill="none"/>
<path d="M459.05,40.40L459.05,45.80M456.71,41.75L461.39,44.45M456.71,44.45L461.39,41.75" stroke="#3a3a3a" stroke-width="0.95" fill="none"/>
<polyline points="474.93,69.65 474.93,61.90 485.82,61.90" fill="none" stroke="#9a9a9a" stroke-width="0.7"/>
<path d="M477.43,54.90L477.43,60.30M475.09,56.25L479.76,58.95M475.09,58.95L479.76,56.25" stroke="#3a3a3a" stroke-width="0.95" fill="none"/>
<path d="M483.32,54.90L483.32,60.30M480.99,56.25L485.66,58.95M480.99,58.95L485.66,56.25" stroke="#3a3a3a" stroke-width="0.95" fill="none"/>
<line x1="525.40" y1="80.60" x2="734.60" y2="80.60" stroke="#a52d5a" stroke-width="1.3" stroke-dasharray="3.0,3.2"/>
<rect x="528.20" y="104.18" width="7.00" height="41.92" fill="#4a3b88"/>
<line x1="531.70" y1="101.43" x2="531.70" y2="104.18" stroke="#4a3b88" stroke-width="0.9" stroke-opacity="0.75"/>
<line x1="529.50" y1="101.43" x2="533.90" y2="101.43" stroke="#4a3b88" stroke-width="0.9" stroke-opacity="0.75"/>
<line x1="531.70" y1="146.10" x2="531.70" y2="148.70" stroke="#333" stroke-width="0.8"/>
<text x="533.70" y="152.10" font-size="8.6" text-anchor="end" fill="#222" font-weight="normal" transform="rotate(-90 533.7 152.1)" textLength="52.46" lengthAdjust="spacingAndGlyphs">E. cloacae (L2)</text>
<rect x="539.07" y="100.25" width="7.00" height="45.85" fill="#4a3b88"/>
<line x1="542.57" y1="96.65" x2="542.57" y2="100.25" stroke="#4a3b88" stroke-width="0.9" stroke-opacity="0.75"/>
<line x1="540.37" y1="96.65" x2="544.77" y2="96.65" stroke="#4a3b88" stroke-width="0.9" stroke-opacity="0.75"/>
<line x1="542.57" y1="146.10" x2="542.57" y2="148.70" stroke="#333" stroke-width="0.8"/>
<text x="544.57" y="152.10" font-size="8.6" text-anchor="end" fill="#222" font-weight="normal" transform="rotate(-90 544.57 152.1)" textLength="64.15" lengthAdjust="spacingAndGlyphs">S. maltophilia (C1)</text>
<rect x="549.94" y="98.94" width="7.00" height="47.16" fill="#4a3b88"/>
<line x1="553.44" y1="93.18" x2="553.44" y2="98.94" stroke="#4a3b88" stroke-width="0.9" stroke-opacity="0.75"/>
<line x1="551.24" y1="93.18" x2="555.64" y2="93.18" stroke="#4a3b88" stroke-width="0.9" stroke-opacity="0.75"/>
<line x1="553.44" y1="146.10" x2="553.44" y2="148.70" stroke="#333" stroke-width="0.8"/>
<text x="555.44" y="152.10" font-size="8.6" text-anchor="end" fill="#222" font-weight="normal" transform="rotate(-90 555.44 152.1)" textLength="52.02" lengthAdjust="spacingAndGlyphs">E. faecalis (L2)</text>
<rect x="560.81" y="98.28" width="7.00" height="47.81" fill="#4a3b88"/>
<line x1="564.31" y1="95.27" x2="564.31" y2="98.28" stroke="#4a3b88" stroke-width="0.9" stroke-opacity="0.75"/>
<line x1="562.11" y1="95.27" x2="566.51" y2="95.27" stroke="#4a3b88" stroke-width="0.9" stroke-opacity="0.75"/>
<line x1="564.31" y1="146.10" x2="564.31" y2="148.70" stroke="#333" stroke-width="0.8"/>
<text x="566.31" y="152.10" font-size="8.6" text-anchor="end" fill="#222" font-weight="normal" transform="rotate(-90 566.3100000000001 152.1)" textLength="53.75" lengthAdjust="spacingAndGlyphs">E. cloacae (C2)</text>
<rect x="571.68" y="95.01" width="7.00" height="51.09" fill="#4a3b88"/>
<line x1="575.18" y1="92.46" x2="575.18" y2="95.01" stroke="#4a3b88" stroke-width="0.9" stroke-opacity="0.75"/>
<line x1="572.98" y1="92.46" x2="577.38" y2="92.46" stroke="#4a3b88" stroke-width="0.9" stroke-opacity="0.75"/>
<line x1="575.18" y1="146.10" x2="575.18" y2="148.70" stroke="#333" stroke-width="0.8"/>
<text x="577.18" y="152.10" font-size="8.6" text-anchor="end" fill="#222" font-weight="normal" transform="rotate(-90 577.1800000000001 152.1)" textLength="53.31" lengthAdjust="spacingAndGlyphs">E. faecalis (C1)</text>
<rect x="582.55" y="94.55" width="7.00" height="51.55" fill="#4a3b88"/>
<line x1="586.05" y1="88.79" x2="586.05" y2="94.55" stroke="#4a3b88" stroke-width="0.9" stroke-opacity="0.75"/>
<line x1="583.85" y1="88.79" x2="588.25" y2="88.79" stroke="#4a3b88" stroke-width="0.9" stroke-opacity="0.75"/>
<line x1="586.05" y1="146.10" x2="586.05" y2="148.70" stroke="#333" stroke-width="0.8"/>
<text x="588.05" y="152.10" font-size="8.6" text-anchor="end" fill="#222" font-weight="normal" transform="rotate(-90 588.0500000000001 152.1)" textLength="54.18" lengthAdjust="spacingAndGlyphs">E. faecium (H2)</text>
<rect x="593.42" y="93.90" width="7.00" height="52.20" fill="#4a3b88"/>
<line x1="596.92" y1="90.29" x2="596.92" y2="93.90" stroke="#4a3b88" stroke-width="0.9" stroke-opacity="0.75"/>
<line x1="594.72" y1="90.29" x2="599.12" y2="90.29" stroke="#4a3b88" stroke-width="0.9" stroke-opacity="0.75"/>
<line x1="596.92" y1="146.10" x2="596.92" y2="148.70" stroke="#333" stroke-width="0.8"/>
<text x="598.92" y="152.10" font-size="8.6" text-anchor="end" fill="#222" font-weight="normal" transform="rotate(-90 598.9200000000001 152.1)" textLength="62.43" lengthAdjust="spacingAndGlyphs">S. anginosus (H2)</text>
<rect x="604.29" y="91.73" width="7.00" height="54.37" fill="#4a3b88"/>
<line x1="607.79" y1="89.18" x2="607.79" y2="91.73" stroke="#4a3b88" stroke-width="0.9" stroke-opacity="0.75"/>
<line x1="605.59" y1="89.18" x2="609.99" y2="89.18" stroke="#4a3b88" stroke-width="0.9" stroke-opacity="0.75"/>
<line x1="607.79" y1="146.10" x2="607.79" y2="148.70" stroke="#333" stroke-width="0.8"/>
<text x="609.79" y="152.10" font-size="8.6" text-anchor="end" fill="#222" font-weight="normal" transform="rotate(-90 609.7900000000001 152.1)" textLength="62.43" lengthAdjust="spacingAndGlyphs">S. anginosus (C2)</text>
<rect x="615.16" y="91.73" width="7.00" height="54.37" fill="#4a3b88"/>
<line x1="618.66" y1="87.48" x2="618.66" y2="91.73" stroke="#4a3b88" stroke-width="0.9" stroke-opacity="0.75"/>
<line x1="616.46" y1="87.48" x2="620.86" y2="87.48" stroke="#4a3b88" stroke-width="0.9" stroke-opacity="0.75"/>
<line x1="618.66" y1="146.10" x2="618.66" y2="148.70" stroke="#333" stroke-width="0.8"/>
<text x="620.66" y="152.10" font-size="8.6" text-anchor="end" fill="#222" font-weight="normal" transform="rotate(-90 620.6600000000001 152.1)" textLength="53.75" lengthAdjust="spacingAndGlyphs">E. cloacae (H2)</text>
<rect x="626.03" y="91.08" width="7.00" height="55.02" fill="#4a3b88"/>
<line x1="629.53" y1="86.36" x2="629.53" y2="91.08" stroke="#4a3b88" stroke-width="0.9" stroke-opacity="0.75"/>
<line x1="627.33" y1="86.36" x2="631.73" y2="86.36" stroke="#4a3b88" stroke-width="0.9" stroke-opacity="0.75"/>
<line x1="629.53" y1="146.10" x2="629.53" y2="148.70" stroke="#333" stroke-width="0.8"/>
<text x="631.53" y="152.10" font-size="8.6" text-anchor="end" fill="#222" font-weight="normal" transform="rotate(-90 631.5300000000001 152.1)" textLength="62.43" lengthAdjust="spacingAndGlyphs">K. aerogenes (L1)</text>
<rect x="636.90" y="87.80" width="7.00" height="58.30" fill="#4a3b88"/>
<line x1="640.40" y1="84.20" x2="640.40" y2="87.80" stroke="#4a3b88" stroke-width="0.9" stroke-opacity="0.75"/>
<line x1="638.20" y1="84.20" x2="642.60" y2="84.20" stroke="#4a3b88" stroke-width="0.9" stroke-opacity="0.75"/>
<line x1="640.40" y1="146.10" x2="640.40" y2="148.70" stroke="#333" stroke-width="0.8"/>
<text x="642.40" y="152.10" font-size="8.6" text-anchor="end" fill="#222" font-weight="normal" transform="rotate(-90 642.4000000000001 152.1)" textLength="69.80" lengthAdjust="spacingAndGlyphs">K. pneumoniae (C2)</text>
<rect x="647.77" y="87.15" width="7.00" height="58.95" fill="#4a3b88"/>
<line x1="651.27" y1="83.55" x2="651.27" y2="87.15" stroke="#4a3b88" stroke-width="0.9" stroke-opacity="0.75"/>
<line x1="649.07" y1="83.55" x2="653.47" y2="83.55" stroke="#4a3b88" stroke-width="0.9" stroke-opacity="0.75"/>
<line x1="651.27" y1="146.10" x2="651.27" y2="148.70" stroke="#333" stroke-width="0.8"/>
<text x="653.27" y="152.10" font-size="8.6" text-anchor="end" fill="#222" font-weight="normal" transform="rotate(-90 653.27 152.1)" textLength="52.88" lengthAdjust="spacingAndGlyphs">C. freundii (H1)</text>
<rect x="658.64" y="84.86" width="7.00" height="61.24" fill="#4a3b88"/>
<line x1="662.14" y1="80.60" x2="662.14" y2="84.86" stroke="#4a3b88" stroke-width="0.9" stroke-opacity="0.75"/>
<line x1="659.94" y1="80.60" x2="664.34" y2="80.60" stroke="#4a3b88" stroke-width="0.9" stroke-opacity="0.75"/>
<line x1="662.14" y1="146.10" x2="662.14" y2="148.70" stroke="#333" stroke-width="0.8"/>
<text x="664.14" y="152.10" font-size="8.6" text-anchor="end" fill="#222" font-weight="normal" transform="rotate(-90 664.1400000000001 152.1)" textLength="53.75" lengthAdjust="spacingAndGlyphs">K. oxytoca (H1)</text>
<rect x="669.51" y="95.01" width="7.00" height="51.09" fill="#752c80"/>
<line x1="673.01" y1="91.41" x2="673.01" y2="95.01" stroke="#752c80" stroke-width="0.9" stroke-opacity="0.75"/>
<line x1="670.81" y1="91.41" x2="675.21" y2="91.41" stroke="#752c80" stroke-width="0.9" stroke-opacity="0.75"/>
<line x1="673.01" y1="146.10" x2="673.01" y2="148.70" stroke="#333" stroke-width="0.8"/>
<text x="675.01" y="152.10" font-size="8.6" text-anchor="end" fill="#222" font-weight="normal" transform="rotate(-90 675.01 152.1)" textLength="36.42" lengthAdjust="spacingAndGlyphs">E. coli d12</text>
<rect x="680.38" y="92.39" width="7.00" height="53.71" fill="#752c80"/>
<line x1="683.88" y1="89.38" x2="683.88" y2="92.39" stroke="#752c80" stroke-width="0.9" stroke-opacity="0.75"/>
<line x1="681.68" y1="89.38" x2="686.08" y2="89.38" stroke="#752c80" stroke-width="0.9" stroke-opacity="0.75"/>
<line x1="683.88" y1="146.10" x2="683.88" y2="148.70" stroke="#333" stroke-width="0.8"/>
<text x="685.88" y="152.10" font-size="8.6" text-anchor="end" fill="#222" font-weight="normal" transform="rotate(-90 685.88 152.1)" textLength="45.09" lengthAdjust="spacingAndGlyphs">E. coli 25922</text>
<rect x="691.25" y="105.49" width="7.00" height="40.61" fill="#106e6a"/>
<line x1="694.75" y1="104.18" x2="694.75" y2="105.49" stroke="#106e6a" stroke-width="0.9" stroke-opacity="0.75"/>
<line x1="692.55" y1="104.18" x2="696.95" y2="104.18" stroke="#106e6a" stroke-width="0.9" stroke-opacity="0.75"/>
<line x1="694.75" y1="146.10" x2="694.75" y2="148.70" stroke="#333" stroke-width="0.8"/>
<text x="696.75" y="152.10" font-size="8.6" text-anchor="end" fill="#222" font-weight="normal" transform="rotate(-90 696.75 152.1)" textLength="56.79" lengthAdjust="spacingAndGlyphs">F. nucleatum O1</text>
<rect x="702.12" y="100.91" width="7.00" height="45.19" fill="#106e6a"/>
<line x1="705.62" y1="96.45" x2="705.62" y2="100.91" stroke="#106e6a" stroke-width="0.9" stroke-opacity="0.75"/>
<line x1="703.42" y1="96.45" x2="707.82" y2="96.45" stroke="#106e6a" stroke-width="0.9" stroke-opacity="0.75"/>
<line x1="705.62" y1="146.10" x2="705.62" y2="148.70" stroke="#333" stroke-width="0.8"/>
<text x="707.62" y="152.10" font-size="8.6" text-anchor="end" fill="#222" font-weight="normal" transform="rotate(-90 707.62 152.1)" textLength="55.93" lengthAdjust="spacingAndGlyphs">F. nucleatum B2</text>
<rect x="712.99" y="98.94" width="7.00" height="47.16" fill="#106e6a"/>
<line x1="716.49" y1="97.24" x2="716.49" y2="98.94" stroke="#106e6a" stroke-width="0.9" stroke-opacity="0.75"/>
<line x1="714.29" y1="97.24" x2="718.69" y2="97.24" stroke="#106e6a" stroke-width="0.9" stroke-opacity="0.75"/>
<line x1="716.49" y1="146.10" x2="716.49" y2="148.70" stroke="#333" stroke-width="0.8"/>
<text x="718.49" y="152.10" font-size="8.6" text-anchor="end" fill="#222" font-weight="normal" transform="rotate(-90 718.49 152.1)" textLength="55.93" lengthAdjust="spacingAndGlyphs">F. nucleatum B3</text>
<rect x="723.86" y="107.78" width="7.00" height="38.32" fill="#a8124f"/>
<line x1="727.36" y1="105.23" x2="727.36" y2="107.78" stroke="#a8124f" stroke-width="0.9" stroke-opacity="0.75"/>
<line x1="725.16" y1="105.23" x2="729.56" y2="105.23" stroke="#a8124f" stroke-width="0.9" stroke-opacity="0.75"/>
<line x1="727.36" y1="146.10" x2="727.36" y2="148.70" stroke="#333" stroke-width="0.8"/>
<text x="729.36" y="152.10" font-size="8.6" text-anchor="end" fill="#222" font-weight="normal" transform="rotate(-90 729.36 152.1)" textLength="43.78" lengthAdjust="spacingAndGlyphs">Gemcitabine</text>
<line x1="523.90" y1="47.10" x2="523.90" y2="146.50" stroke="#333" stroke-width="0.9"/>
<line x1="523.50" y1="146.10" x2="734.60" y2="146.10" stroke="#333" stroke-width="0.9"/>
<line x1="521.40" y1="146.10" x2="523.90" y2="146.10" stroke="#333" stroke-width="0.8"/>
<text x="520.40" y="148.60" font-size="8.5" text-anchor="end" fill="#222" font-weight="normal">0</text>
<line x1="521.40" y1="113.35" x2="523.90" y2="113.35" stroke="#333" stroke-width="0.8"/>
<text x="520.40" y="115.85" font-size="8.5" text-anchor="end" fill="#222" font-weight="normal">50</text>
<line x1="521.40" y1="80.60" x2="523.90" y2="80.60" stroke="#333" stroke-width="0.8"/>
<text x="520.40" y="83.10" font-size="8.5" text-anchor="end" fill="#222" font-weight="normal">100</text>
<line x1="521.40" y1="47.85" x2="523.90" y2="47.85" stroke="#333" stroke-width="0.8"/>
<text x="520.40" y="50.35" font-size="8.5" text-anchor="end" fill="#222" font-weight="normal">150</text>
<text x="505.60" y="94.30" font-size="10.5" text-anchor="middle" fill="#222" font-weight="normal" transform="rotate(-90 505.6 94.3)" textLength="87.4" lengthAdjust="spacingAndGlyphs">% Viability (PANC-1)</text>
<text x="623.00" y="235.80" font-size="10.1" text-anchor="middle" fill="#222" font-weight="normal">Bacterial conditioned media</text>
<text x="623.00" y="247.50" font-size="10.1" text-anchor="middle" fill="#222" font-weight="normal">40uM Gemcitabine</text>
<line x1="727.36" y1="24.20" x2="727.36" y2="103.73" stroke="#9a9a9a" stroke-width="0.7"/>
<polyline points="607.79,87.68 607.79,24.20 727.36,24.20" fill="none" stroke="#9a9a9a" stroke-width="0.7"/>
<path d="M667.58,17.20L667.58,22.60M665.24,18.55L669.91,21.25M665.24,21.25L669.91,18.55" stroke="#3a3a3a" stroke-width="0.95" fill="none"/>
<polyline points="618.66,85.98 618.66,33.40 727.36,33.40" fill="none" stroke="#9a9a9a" stroke-width="0.7"/>
<path d="M673.01,26.40L673.01,31.80M670.67,27.75L675.35,30.45M670.67,30.45L675.35,27.75" stroke="#3a3a3a" stroke-width="0.95" fill="none"/>
<polyline points="629.53,84.86 629.53,41.90 727.36,41.90" fill="none" stroke="#9a9a9a" stroke-width="0.7"/>
<path d="M678.45,34.90L678.45,40.30M676.11,36.25L680.78,38.95M676.11,38.95L680.78,36.25" stroke="#3a3a3a" stroke-width="0.95" fill="none"/>
<polyline points="640.40,82.70 640.40,51.60 727.36,51.60" fill="none" stroke="#9a9a9a" stroke-width="0.7"/>
<path d="M680.93,44.60L680.93,50.00M678.59,45.95L683.27,48.65M678.59,48.65L683.27,45.95" stroke="#3a3a3a" stroke-width="0.95" fill="none"/>
<path d="M686.83,44.60L686.83,50.00M684.49,45.95L689.17,48.65M684.49,48.65L689.17,45.95" stroke="#3a3a3a" stroke-width="0.95" fill="none"/>
<polyline points="651.27,82.05 651.27,60.40 727.36,60.40" fill="none" stroke="#9a9a9a" stroke-width="0.7"/>
<path d="M683.42,53.40L683.42,58.80M681.08,54.75L685.75,57.45M681.08,57.45L685.75,54.75" stroke="#3a3a3a" stroke-width="0.95" fill="none"/>
<path d="M689.32,53.40L689.32,58.80M686.98,54.75L691.65,57.45M686.98,57.45L691.65,54.75" stroke="#3a3a3a" stroke-width="0.95" fill="none"/>
<path d="M695.22,53.40L695.22,58.80M692.88,54.75L697.55,57.45M692.88,57.45L697.55,54.75" stroke="#3a3a3a" stroke-width="0.95" fill="none"/>
<polyline points="662.14,79.10 662.14,69.20 727.36,69.20" fill="none" stroke="#9a9a9a" stroke-width="0.7"/>
<path d="M688.85,62.20L688.85,67.60M686.51,63.55L691.19,66.25M686.51,66.25L691.19,63.55" stroke="#3a3a3a" stroke-width="0.95" fill="none"/>
<path d="M694.75,62.20L694.75,67.60M692.41,63.55L697.09,66.25M692.41,66.25L697.09,63.55" stroke="#3a3a3a" stroke-width="0.95" fill="none"/>
<path d="M700.65,62.20L700.65,67.60M698.31,63.55L702.99,66.25M698.31,66.25L702.99,63.55" stroke="#3a3a3a" stroke-width="0.95" fill="none"/>
<polyline points="683.88,87.88 683.88,76.00 727.36,76.00" fill="none" stroke="#9a9a9a" stroke-width="0.7"/>
<path d="M705.62,69.00L705.62,74.40M703.28,70.35L707.96,73.05M703.28,73.05L707.96,70.35" stroke="#3a3a3a" stroke-width="0.95" fill="none"/>
<line x1="35.90" y1="342.90" x2="244.00" y2="342.90" stroke="#a52d5a" stroke-width="1.3" stroke-dasharray="3.0,3.2"/>
<rect x="38.20" y="357.01" width="6.90" height="54.39" fill="#4a3b88"/>
<line x1="41.65" y1="352.56" x2="41.65" y2="357.01" stroke="#4a3b88" stroke-width="0.9" stroke-opacity="0.75"/>
<line x1="39.45" y1="352.56" x2="43.85" y2="352.56" stroke="#4a3b88" stroke-width="0.9" stroke-opacity="0.75"/>
<line x1="41.65" y1="411.40" x2="41.65" y2="414.00" stroke="#333" stroke-width="0.8"/>
<text x="43.65" y="417.40" font-size="8.6" text-anchor="end" fill="#222" font-weight="normal" transform="rotate(-90 43.650000000000006 417.4)" textLength="52.02" lengthAdjust="spacingAndGlyphs">E. faecalis (L2)</text>
<rect x="49.00" y="355.57" width="6.90" height="55.83" fill="#4a3b88"/>
<line x1="52.45" y1="347.42" x2="52.45" y2="355.57" stroke="#4a3b88" stroke-width="0.9" stroke-opacity="0.75"/>
<line x1="50.25" y1="347.42" x2="54.65" y2="347.42" stroke="#4a3b88" stroke-width="0.9" stroke-opacity="0.75"/>
<line x1="52.45" y1="411.40" x2="52.45" y2="414.00" stroke="#333" stroke-width="0.8"/>
<text x="54.45" y="417.40" font-size="8.6" text-anchor="end" fill="#222" font-weight="normal" transform="rotate(-90 54.45 417.4)" textLength="53.75" lengthAdjust="spacingAndGlyphs">K. oxytoca (H1)</text>
<rect x="59.80" y="348.11" width="6.90" height="63.29" fill="#4a3b88"/>
<line x1="63.25" y1="345.57" x2="63.25" y2="348.11" stroke="#4a3b88" stroke-width="0.9" stroke-opacity="0.75"/>
<line x1="61.05" y1="345.57" x2="65.45" y2="345.57" stroke="#4a3b88" stroke-width="0.9" stroke-opacity="0.75"/>
<line x1="63.25" y1="411.40" x2="63.25" y2="414.00" stroke="#333" stroke-width="0.8"/>
<text x="65.25" y="417.40" font-size="8.6" text-anchor="end" fill="#222" font-weight="normal" transform="rotate(-90 65.25 417.4)" textLength="62.43" lengthAdjust="spacingAndGlyphs">S. anginosus (H2)</text>
<rect x="70.60" y="348.11" width="6.90" height="63.29" fill="#4a3b88"/>
<line x1="74.05" y1="344.82" x2="74.05" y2="348.11" stroke="#4a3b88" stroke-width="0.9" stroke-opacity="0.75"/>
<line x1="71.85" y1="344.82" x2="76.25" y2="344.82" stroke="#4a3b88" stroke-width="0.9" stroke-opacity="0.75"/>
<line x1="74.05" y1="411.40" x2="74.05" y2="414.00" stroke="#333" stroke-width="0.8"/>
<text x="76.05" y="417.40" font-size="8.6" text-anchor="end" fill="#222" font-weight="normal" transform="rotate(-90 76.05000000000001 417.4)" textLength="64.15" lengthAdjust="spacingAndGlyphs">S. maltophilia (C1)</text>
<rect x="81.40" y="348.11" width="6.90" height="63.29" fill="#4a3b88"/>
<line x1="84.85" y1="340.43" x2="84.85" y2="348.11" stroke="#4a3b88" stroke-width="0.9" stroke-opacity="0.75"/>
<line x1="82.65" y1="340.43" x2="87.05" y2="340.43" stroke="#4a3b88" stroke-width="0.9" stroke-opacity="0.75"/>
<line x1="84.85" y1="411.40" x2="84.85" y2="414.00" stroke="#333" stroke-width="0.8"/>
<text x="86.85" y="417.40" font-size="8.6" text-anchor="end" fill="#222" font-weight="normal" transform="rotate(-90 86.85000000000001 417.4)" textLength="53.75" lengthAdjust="spacingAndGlyphs">E. cloacae (H2)</text>
<rect x="92.20" y="347.01" width="6.90" height="64.39" fill="#4a3b88"/>
<line x1="95.65" y1="342.56" x2="95.65" y2="347.01" stroke="#4a3b88" stroke-width="0.9" stroke-opacity="0.75"/>
<line x1="93.45" y1="342.56" x2="97.85" y2="342.56" stroke="#4a3b88" stroke-width="0.9" stroke-opacity="0.75"/>
<line x1="95.65" y1="411.40" x2="95.65" y2="414.00" stroke="#333" stroke-width="0.8"/>
<text x="97.65" y="417.40" font-size="8.6" text-anchor="end" fill="#222" font-weight="normal" transform="rotate(-90 97.65 417.4)" textLength="52.46" lengthAdjust="spacingAndGlyphs">E. cloacae (L2)</text>
<rect x="103.00" y="346.32" width="6.90" height="65.07" fill="#4a3b88"/>
<line x1="106.45" y1="338.65" x2="106.45" y2="346.32" stroke="#4a3b88" stroke-width="0.9" stroke-opacity="0.75"/>
<line x1="104.25" y1="338.65" x2="108.65" y2="338.65" stroke="#4a3b88" stroke-width="0.9" stroke-opacity="0.75"/>
<line x1="106.45" y1="411.40" x2="106.45" y2="414.00" stroke="#333" stroke-width="0.8"/>
<text x="108.45" y="417.40" font-size="8.6" text-anchor="end" fill="#222" font-weight="normal" transform="rotate(-90 108.45000000000002 417.4)" textLength="54.18" lengthAdjust="spacingAndGlyphs">E. faecium (H2)</text>
<rect x="113.80" y="346.32" width="6.90" height="65.07" fill="#4a3b88"/>
<line x1="117.25" y1="338.65" x2="117.25" y2="346.32" stroke="#4a3b88" stroke-width="0.9" stroke-opacity="0.75"/>
<line x1="115.05" y1="338.65" x2="119.45" y2="338.65" stroke="#4a3b88" stroke-width="0.9" stroke-opacity="0.75"/>
<line x1="117.25" y1="411.40" x2="117.25" y2="414.00" stroke="#333" stroke-width="0.8"/>
<text x="119.25" y="417.40" font-size="8.6" text-anchor="end" fill="#222" font-weight="normal" transform="rotate(-90 119.25000000000001 417.4)" textLength="52.88" lengthAdjust="spacingAndGlyphs">C. freundii (H1)</text>
<rect x="124.60" y="342.21" width="6.90" height="69.19" fill="#4a3b88"/>
<line x1="128.05" y1="334.75" x2="128.05" y2="342.21" stroke="#4a3b88" stroke-width="0.9" stroke-opacity="0.75"/>
<line x1="125.85" y1="334.75" x2="130.25" y2="334.75" stroke="#4a3b88" stroke-width="0.9" stroke-opacity="0.75"/>
<line x1="128.05" y1="411.40" x2="128.05" y2="414.00" stroke="#333" stroke-width="0.8"/>
<text x="130.05" y="417.40" font-size="8.6" text-anchor="end" fill="#222" font-weight="normal" transform="rotate(-90 130.05 417.4)" textLength="53.31" lengthAdjust="spacingAndGlyphs">E. faecalis (C1)</text>
<rect x="135.40" y="342.21" width="6.90" height="69.19" fill="#4a3b88"/>
<line x1="138.85" y1="336.05" x2="138.85" y2="342.21" stroke="#4a3b88" stroke-width="0.9" stroke-opacity="0.75"/>
<line x1="136.65" y1="336.05" x2="141.05" y2="336.05" stroke="#4a3b88" stroke-width="0.9" stroke-opacity="0.75"/>
<line x1="138.85" y1="411.40" x2="138.85" y2="414.00" stroke="#333" stroke-width="0.8"/>
<text x="140.85" y="417.40" font-size="8.6" text-anchor="end" fill="#222" font-weight="normal" transform="rotate(-90 140.85 417.4)" textLength="53.75" lengthAdjust="spacingAndGlyphs">E. cloacae (C2)</text>
<rect x="146.20" y="341.12" width="6.90" height="70.28" fill="#4a3b88"/>
<line x1="149.65" y1="336.26" x2="149.65" y2="341.12" stroke="#4a3b88" stroke-width="0.9" stroke-opacity="0.75"/>
<line x1="147.45" y1="336.26" x2="151.85" y2="336.26" stroke="#4a3b88" stroke-width="0.9" stroke-opacity="0.75"/>
<line x1="149.65" y1="411.40" x2="149.65" y2="414.00" stroke="#333" stroke-width="0.8"/>
<text x="151.65" y="417.40" font-size="8.6" text-anchor="end" fill="#222" font-weight="normal" transform="rotate(-90 151.64999999999998 417.4)" textLength="62.43" lengthAdjust="spacingAndGlyphs">S. anginosus (C2)</text>
<rect x="157.00" y="340.43" width="6.90" height="70.97" fill="#4a3b88"/>
<line x1="160.45" y1="335.09" x2="160.45" y2="340.43" stroke="#4a3b88" stroke-width="0.9" stroke-opacity="0.75"/>
<line x1="158.25" y1="335.09" x2="162.65" y2="335.09" stroke="#4a3b88" stroke-width="0.9" stroke-opacity="0.75"/>
<line x1="160.45" y1="411.40" x2="160.45" y2="414.00" stroke="#333" stroke-width="0.8"/>
<text x="162.45" y="417.40" font-size="8.6" text-anchor="end" fill="#222" font-weight="normal" transform="rotate(-90 162.45 417.4)" textLength="62.43" lengthAdjust="spacingAndGlyphs">K. aerogenes (L1)</text>
<rect x="167.80" y="339.75" width="6.90" height="71.65" fill="#4a3b88"/>
<line x1="171.25" y1="336.26" x2="171.25" y2="339.75" stroke="#4a3b88" stroke-width="0.9" stroke-opacity="0.75"/>
<line x1="169.05" y1="336.26" x2="173.45" y2="336.26" stroke="#4a3b88" stroke-width="0.9" stroke-opacity="0.75"/>
<line x1="171.25" y1="411.40" x2="171.25" y2="414.00" stroke="#333" stroke-width="0.8"/>
<text x="173.25" y="417.40" font-size="8.6" text-anchor="end" fill="#222" font-weight="normal" transform="rotate(-90 173.25 417.4)" textLength="69.80" lengthAdjust="spacingAndGlyphs">K. pneumoniae (C2)</text>
<rect x="178.60" y="351.39" width="6.90" height="60.01" fill="#752c80"/>
<line x1="182.05" y1="349.54" x2="182.05" y2="351.39" stroke="#752c80" stroke-width="0.9" stroke-opacity="0.75"/>
<line x1="179.85" y1="349.54" x2="184.25" y2="349.54" stroke="#752c80" stroke-width="0.9" stroke-opacity="0.75"/>
<line x1="182.05" y1="411.40" x2="182.05" y2="414.00" stroke="#333" stroke-width="0.8"/>
<text x="184.05" y="417.40" font-size="8.6" text-anchor="end" fill="#222" font-weight="normal" transform="rotate(-90 184.05 417.4)" textLength="45.09" lengthAdjust="spacingAndGlyphs">E. coli 25922</text>
<rect x="189.40" y="348.38" width="6.90" height="63.02" fill="#752c80"/>
<line x1="192.85" y1="344.41" x2="192.85" y2="348.38" stroke="#752c80" stroke-width="0.9" stroke-opacity="0.75"/>
<line x1="190.65" y1="344.41" x2="195.05" y2="344.41" stroke="#752c80" stroke-width="0.9" stroke-opacity="0.75"/>
<line x1="192.85" y1="411.40" x2="192.85" y2="414.00" stroke="#333" stroke-width="0.8"/>
<text x="194.85" y="417.40" font-size="8.6" text-anchor="end" fill="#222" font-weight="normal" transform="rotate(-90 194.85000000000002 417.4)" textLength="36.42" lengthAdjust="spacingAndGlyphs">E. coli d12</text>
<rect x="200.20" y="345.64" width="6.90" height="65.76" fill="#106e6a"/>
<line x1="203.65" y1="343.31" x2="203.65" y2="345.64" stroke="#106e6a" stroke-width="0.9" stroke-opacity="0.75"/>
<line x1="201.45" y1="343.31" x2="205.85" y2="343.31" stroke="#106e6a" stroke-width="0.9" stroke-opacity="0.75"/>
<line x1="203.65" y1="411.40" x2="203.65" y2="414.00" stroke="#333" stroke-width="0.8"/>
<text x="205.65" y="417.40" font-size="8.6" text-anchor="end" fill="#222" font-weight="normal" transform="rotate(-90 205.64999999999998 417.4)" textLength="55.93" lengthAdjust="spacingAndGlyphs">F. nucleatum B3</text>
<rect x="211.00" y="343.24" width="6.90" height="68.16" fill="#106e6a"/>
<line x1="214.45" y1="339.27" x2="214.45" y2="343.24" stroke="#106e6a" stroke-width="0.9" stroke-opacity="0.75"/>
<line x1="212.25" y1="339.27" x2="216.65" y2="339.27" stroke="#106e6a" stroke-width="0.9" stroke-opacity="0.75"/>
<line x1="214.45" y1="411.40" x2="214.45" y2="414.00" stroke="#333" stroke-width="0.8"/>
<text x="216.45" y="417.40" font-size="8.6" text-anchor="end" fill="#222" font-weight="normal" transform="rotate(-90 216.45 417.4)" textLength="55.93" lengthAdjust="spacingAndGlyphs">F. nucleatum B2</text>
<rect x="221.80" y="342.21" width="6.90" height="69.19" fill="#106e6a"/>
<line x1="225.25" y1="337.35" x2="225.25" y2="342.21" stroke="#106e6a" stroke-width="0.9" stroke-opacity="0.75"/>
<line x1="223.05" y1="337.35" x2="227.45" y2="337.35" stroke="#106e6a" stroke-width="0.9" stroke-opacity="0.75"/>
<line x1="225.25" y1="411.40" x2="225.25" y2="414.00" stroke="#333" stroke-width="0.8"/>
<text x="227.25" y="417.40" font-size="8.6" text-anchor="end" fill="#222" font-weight="normal" transform="rotate(-90 227.25 417.4)" textLength="56.79" lengthAdjust="spacingAndGlyphs">F. nucleatum O1</text>
<rect x="232.60" y="368.93" width="6.90" height="42.47" fill="#a8124f"/>
<line x1="236.05" y1="367.29" x2="236.05" y2="368.93" stroke="#a8124f" stroke-width="0.9" stroke-opacity="0.75"/>
<line x1="233.85" y1="367.29" x2="238.25" y2="367.29" stroke="#a8124f" stroke-width="0.9" stroke-opacity="0.75"/>
<line x1="236.05" y1="411.40" x2="236.05" y2="414.00" stroke="#333" stroke-width="0.8"/>
<text x="238.05" y="417.40" font-size="8.6" text-anchor="end" fill="#222" font-weight="normal" transform="rotate(-90 238.05 417.4)" textLength="43.78" lengthAdjust="spacingAndGlyphs">Gemcitabine</text>
<line x1="34.40" y1="308.20" x2="34.40" y2="411.80" stroke="#333" stroke-width="0.9"/>
<line x1="34.00" y1="411.40" x2="244.00" y2="411.40" stroke="#333" stroke-width="0.9"/>
<line x1="31.90" y1="411.40" x2="34.40" y2="411.40" stroke="#333" stroke-width="0.8"/>
<text x="30.90" y="413.90" font-size="8.5" text-anchor="end" fill="#222" font-weight="normal">0</text>
<line x1="31.90" y1="377.15" x2="34.40" y2="377.15" stroke="#333" stroke-width="0.8"/>
<text x="30.90" y="379.65" font-size="8.5" text-anchor="end" fill="#222" font-weight="normal">50</text>
<line x1="31.90" y1="342.90" x2="34.40" y2="342.90" stroke="#333" stroke-width="0.8"/>
<text x="30.90" y="345.40" font-size="8.5" text-anchor="end" fill="#222" font-weight="normal">100</text>
<line x1="31.90" y1="308.65" x2="34.40" y2="308.65" stroke="#333" stroke-width="0.8"/>
<text x="30.90" y="311.15" font-size="8.5" text-anchor="end" fill="#222" font-weight="normal">150</text>
<text x="13.20" y="356.80" font-size="10.5" text-anchor="middle" fill="#222" font-weight="normal" transform="rotate(-90 13.2 356.8)" textLength="86.3" lengthAdjust="spacingAndGlyphs">% Viability (AsPC-1)</text>
<text x="132.50" y="497.50" font-size="10.1" text-anchor="middle" fill="#222" font-weight="normal">Bacterial conditioned media</text>
<text x="132.50" y="508.40" font-size="10.1" text-anchor="middle" fill="#222" font-weight="normal">40uM Gemcitabine</text>
<line x1="236.05" y1="220.60" x2="236.05" y2="365.79" stroke="#9a9a9a" stroke-width="0.7"/>
<polyline points="95.65,341.06 95.65,220.60 236.05,220.60" fill="none" stroke="#9a9a9a" stroke-width="0.7"/>
<path d="M165.85,213.60L165.85,219.00M163.51,214.95L168.19,217.65M163.51,217.65L168.19,214.95" stroke="#3a3a3a" stroke-width="0.95" fill="none"/>
<polyline points="106.45,337.15 106.45,231.20 236.05,231.20" fill="none" stroke="#9a9a9a" stroke-width="0.7"/>
<path d="M171.25,224.20L171.25,229.60M168.91,225.55L173.59,228.25M168.91,228.25L173.59,225.55" stroke="#3a3a3a" stroke-width="0.95" fill="none"/>
<polyline points="117.25,337.15 117.25,241.10 236.05,241.10" fill="none" stroke="#9a9a9a" stroke-width="0.7"/>
<path d="M176.65,234.10L176.65,239.50M174.31,235.45L178.99,238.15M174.31,238.15L178.99,235.45" stroke="#3a3a3a" stroke-width="0.95" fill="none"/>
<polyline points="128.05,333.25 128.05,252.20 236.05,252.20" fill="none" stroke="#9a9a9a" stroke-width="0.7"/>
<path d="M179.10,245.20L179.10,250.60M176.76,246.55L181.44,249.25M176.76,249.25L181.44,246.55" stroke="#3a3a3a" stroke-width="0.95" fill="none"/>
<path d="M185.00,245.20L185.00,250.60M182.66,246.55L187.34,249.25M182.66,249.25L187.34,246.55" stroke="#3a3a3a" stroke-width="0.95" fill="none"/>
<polyline points="138.85,334.55 138.85,263.50 236.05,263.50" fill="none" stroke="#9a9a9a" stroke-width="0.7"/>
<path d="M184.50,256.50L184.50,261.90M182.16,257.85L186.84,260.55M182.16,260.55L186.84,257.85" stroke="#3a3a3a" stroke-width="0.95" fill="none"/>
<path d="M190.40,256.50L190.40,261.90M188.06,257.85L192.74,260.55M188.06,260.55L192.74,257.85" stroke="#3a3a3a" stroke-width="0.95" fill="none"/>
<polyline points="149.65,334.76 149.65,275.70 236.05,275.70" fill="none" stroke="#9a9a9a" stroke-width="0.7"/>
<path d="M189.90,268.70L189.90,274.10M187.56,270.05L192.24,272.75M187.56,272.75L192.24,270.05" stroke="#3a3a3a" stroke-width="0.95" fill="none"/>
<path d="M195.80,268.70L195.80,274.10M193.46,270.05L198.14,272.75M193.46,272.75L198.14,270.05" stroke="#3a3a3a" stroke-width="0.95" fill="none"/>
<polyline points="160.45,333.59 160.45,286.30 236.05,286.30" fill="none" stroke="#9a9a9a" stroke-width="0.7"/>
<path d="M195.30,279.30L195.30,284.70M192.96,280.65L197.64,283.35M192.96,283.35L197.64,280.65" stroke="#3a3a3a" stroke-width="0.95" fill="none"/>
<path d="M201.20,279.30L201.20,284.70M198.86,280.65L203.54,283.35M198.86,283.35L203.54,280.65" stroke="#3a3a3a" stroke-width="0.95" fill="none"/>
<polyline points="171.25,334.76 171.25,296.60 236.05,296.60" fill="none" stroke="#9a9a9a" stroke-width="0.7"/>
<path d="M200.70,289.60L200.70,295.00M198.36,290.95L203.04,293.65M198.36,293.65L203.04,290.95" stroke="#3a3a3a" stroke-width="0.95" fill="none"/>
<path d="M206.60,289.60L206.60,295.00M204.26,290.95L208.94,293.65M204.26,293.65L208.94,290.95" stroke="#3a3a3a" stroke-width="0.95" fill="none"/>
<polyline points="203.65,341.81 203.65,307.20 236.05,307.20" fill="none" stroke="#9a9a9a" stroke-width="0.7"/>
<path d="M219.85,300.20L219.85,305.60M217.51,301.55L222.19,304.25M217.51,304.25L222.19,301.55" stroke="#3a3a3a" stroke-width="0.95" fill="none"/>
<polyline points="214.45,337.77 214.45,317.30 236.05,317.30" fill="none" stroke="#9a9a9a" stroke-width="0.7"/>
<path d="M222.30,310.30L222.30,315.70M219.96,311.65L224.64,314.35M219.96,314.35L224.64,311.65" stroke="#3a3a3a" stroke-width="0.95" fill="none"/>
<path d="M228.20,310.30L228.20,315.70M225.86,311.65L230.54,314.35M225.86,314.35L230.54,311.65" stroke="#3a3a3a" stroke-width="0.95" fill="none"/>
<polyline points="225.25,335.85 225.25,329.90 236.05,329.90" fill="none" stroke="#9a9a9a" stroke-width="0.7"/>
<path d="M227.70,322.90L227.70,328.30M225.36,324.25L230.04,326.95M225.36,326.95L230.04,324.25" stroke="#3a3a3a" stroke-width="0.95" fill="none"/>
<path d="M233.60,322.90L233.60,328.30M231.26,324.25L235.94,326.95M231.26,326.95L235.94,324.25" stroke="#3a3a3a" stroke-width="0.95" fill="none"/>
<defs><linearGradient id="gp" x1="0" y1="0" x2="0" y2="1"><stop offset="0" stop-color="#f7ecdf"/><stop offset="0.12" stop-color="#eee2dc"/><stop offset="0.25" stop-color="#d5cad6"/><stop offset="0.37" stop-color="#b4aacb"/><stop offset="0.5" stop-color="#978cbd"/><stop offset="0.75" stop-color="#7b6fab"/><stop offset="1" stop-color="#6a5b9c"/></linearGradient><linearGradient id="gr" x1="0" y1="0" x2="0" y2="1"><stop offset="0" stop-color="#fcece2"/><stop offset="0.17" stop-color="#f3d5d3"/><stop offset="0.33" stop-color="#e2a9bb"/><stop offset="0.5" stop-color="#d47f9f"/><stop offset="0.67" stop-color="#cb6389"/><stop offset="0.83" stop-color="#c4507f"/><stop offset="1" stop-color="#bf4477"/></linearGradient></defs>
<rect x="359.90" y="265.40" width="25.00" height="10.00" fill="#b4a8c0"/>
<rect x="389.35" y="265.40" width="25.00" height="10.00" fill="#8a7fb8"/>
<rect x="418.80" y="265.40" width="25.00" height="10.00" fill="#efe0d8"/>
<text x="353.00" y="272.80" font-size="10.5" text-anchor="end" fill="#222" font-weight="normal">C. freundii (H1)</text>
<line x1="356.00" y1="271.40" x2="359.00" y2="271.40" stroke="#333" stroke-width="0.9"/>
<rect x="389.35" y="276.95" width="25.00" height="10.00" fill="#f8eadf"/>
<rect x="418.80" y="276.95" width="25.00" height="10.00" fill="#eadcd6"/>
<text x="353.00" y="284.35" font-size="10.5" text-anchor="end" fill="#222" font-weight="normal">K. oxytoca (H1)</text>
<line x1="356.00" y1="282.95" x2="359.00" y2="282.95" stroke="#333" stroke-width="0.9"/>
<rect x="359.90" y="288.50" width="25.00" height="10.00" fill="#6e619e"/>
<rect x="389.35" y="288.50" width="25.00" height="10.00" fill="#6a5c9a"/>
<rect x="418.80" y="288.50" width="25.00" height="10.00" fill="#f2e4dc"/>
<text x="353.00" y="295.90" font-size="10.5" text-anchor="end" fill="#222" font-weight="normal">E. cloacae (H2)</text>
<line x1="356.00" y1="294.50" x2="359.00" y2="294.50" stroke="#333" stroke-width="0.9"/>
<rect x="359.90" y="300.05" width="25.00" height="10.00" fill="#7467a4"/>
<rect x="389.35" y="300.05" width="25.00" height="10.00" fill="#786ca6"/>
<rect x="418.80" y="300.05" width="25.00" height="10.00" fill="#ecdcd6"/>
<text x="353.00" y="307.45" font-size="10.5" text-anchor="end" fill="#222" font-weight="normal">E. faecium (H2)</text>
<line x1="356.00" y1="306.05" x2="359.00" y2="306.05" stroke="#333" stroke-width="0.9"/>
<rect x="359.90" y="311.60" width="25.00" height="10.00" fill="#7a6ea8"/>
<rect x="389.35" y="311.60" width="25.00" height="10.00" fill="#7064a0"/>
<rect x="418.80" y="311.60" width="25.00" height="10.00" fill="#f3e5dc"/>
<text x="353.00" y="319.00" font-size="10.5" text-anchor="end" fill="#222" font-weight="normal">S. anginosus (H2)</text>
<line x1="356.00" y1="317.60" x2="359.00" y2="317.60" stroke="#333" stroke-width="0.9"/>
<rect x="359.90" y="323.15" width="25.00" height="10.00" fill="#e8dad6"/>
<rect x="389.35" y="323.15" width="25.00" height="10.00" fill="#786ca6"/>
<rect x="418.80" y="323.15" width="25.00" height="10.00" fill="#f0e2da"/>
<text x="353.00" y="330.55" font-size="10.5" text-anchor="end" fill="#222" font-weight="normal">K. aerogenes (L1)</text>
<line x1="356.00" y1="329.15" x2="359.00" y2="329.15" stroke="#333" stroke-width="0.9"/>
<rect x="359.90" y="334.70" width="25.00" height="10.00" fill="#cbbcc6"/>
<rect x="389.35" y="334.70" width="25.00" height="10.00" fill="#6f62a0"/>
<rect x="418.80" y="334.70" width="25.00" height="10.00" fill="#f3e5dc"/>
<text x="353.00" y="342.10" font-size="10.5" text-anchor="end" fill="#222" font-weight="normal">E. faecalis (C1)</text>
<line x1="356.00" y1="340.70" x2="359.00" y2="340.70" stroke="#333" stroke-width="0.9"/>
<rect x="359.90" y="346.25" width="25.00" height="10.00" fill="#9b90c0"/>
<rect x="389.35" y="346.25" width="25.00" height="10.00" fill="#7266a2"/>
<rect x="418.80" y="346.25" width="25.00" height="10.00" fill="#c0b4c4"/>
<text x="353.00" y="353.65" font-size="10.5" text-anchor="end" fill="#222" font-weight="normal">S. maltophilia (C1)</text>
<line x1="356.00" y1="352.25" x2="359.00" y2="352.25" stroke="#333" stroke-width="0.9"/>
<rect x="359.90" y="357.80" width="25.00" height="10.00" fill="#f5e6da"/>
<rect x="389.35" y="357.80" width="25.00" height="10.00" fill="#b9aec6"/>
<text x="353.00" y="365.20" font-size="10.5" text-anchor="end" fill="#222" font-weight="normal">E. cloacae (L2)</text>
<line x1="356.00" y1="363.80" x2="359.00" y2="363.80" stroke="#333" stroke-width="0.9"/>
<rect x="359.90" y="369.35" width="25.00" height="10.00" fill="#9a8fbe"/>
<rect x="389.35" y="369.35" width="25.00" height="10.00" fill="#f5e8dc"/>
<rect x="418.80" y="369.35" width="25.00" height="10.00" fill="#ab9fba"/>
<text x="353.00" y="376.75" font-size="10.5" text-anchor="end" fill="#222" font-weight="normal">E. faecalis (L2)</text>
<line x1="356.00" y1="375.35" x2="359.00" y2="375.35" stroke="#333" stroke-width="0.9"/>
<rect x="359.90" y="380.90" width="25.00" height="10.00" fill="#c2b5c6"/>
<rect x="389.35" y="380.90" width="25.00" height="10.00" fill="#6c5f9e"/>
<rect x="418.80" y="380.90" width="25.00" height="10.00" fill="#f5e8de"/>
<text x="353.00" y="388.30" font-size="10.5" text-anchor="end" fill="#222" font-weight="normal">E. cloacae (C2)</text>
<line x1="356.00" y1="386.90" x2="359.00" y2="386.90" stroke="#333" stroke-width="0.9"/>
<rect x="359.90" y="392.45" width="25.00" height="10.00" fill="#cfc2c8"/>
<rect x="389.35" y="392.45" width="25.00" height="10.00" fill="#7a6eaa"/>
<rect x="418.80" y="392.45" width="25.00" height="10.00" fill="#f5e8de"/>
<text x="353.00" y="399.85" font-size="10.5" text-anchor="end" fill="#222" font-weight="normal">K. pneumoniae (C2)</text>
<line x1="356.00" y1="398.45" x2="359.00" y2="398.45" stroke="#333" stroke-width="0.9"/>
<rect x="359.90" y="404.00" width="25.00" height="10.00" fill="#b8acc4"/>
<rect x="389.35" y="404.00" width="25.00" height="10.00" fill="#5e5196"/>
<rect x="418.80" y="404.00" width="25.00" height="10.00" fill="#f5e8de"/>
<text x="353.00" y="411.40" font-size="10.5" text-anchor="end" fill="#222" font-weight="normal">S. anginosus (C2)</text>
<line x1="356.00" y1="410.00" x2="359.00" y2="410.00" stroke="#333" stroke-width="0.9"/>
<rect x="359.90" y="415.55" width="25.00" height="10.00" fill="#ecdcd6"/>
<rect x="389.35" y="415.55" width="25.00" height="10.00" fill="#9a90c0"/>
<rect x="418.80" y="415.55" width="25.00" height="10.00" fill="#f3e5dc"/>
<text x="353.00" y="422.95" font-size="10.5" text-anchor="end" fill="#222" font-weight="normal">E. coli 25922</text>
<line x1="356.00" y1="421.55" x2="359.00" y2="421.55" stroke="#333" stroke-width="0.9"/>
<rect x="359.90" y="427.10" width="25.00" height="10.00" fill="#8f84ba"/>
<rect x="389.35" y="427.10" width="25.00" height="10.00" fill="#8a80b8"/>
<rect x="418.80" y="427.10" width="25.00" height="10.00" fill="#ddd0d0"/>
<text x="353.00" y="434.50" font-size="10.5" text-anchor="end" fill="#222" font-weight="normal">E. coli d12</text>
<line x1="356.00" y1="433.10" x2="359.00" y2="433.10" stroke="#333" stroke-width="0.9"/>
<rect x="359.90" y="438.65" width="25.00" height="10.00" fill="#ecdcd6"/>
<rect x="389.35" y="438.65" width="25.00" height="10.00" fill="#7165a4"/>
<rect x="418.80" y="438.65" width="25.00" height="10.00" fill="#e0d0d0"/>
<text x="353.00" y="446.05" font-size="10.5" text-anchor="end" fill="#222" font-weight="normal">F. nucleatum B2</text>
<line x1="356.00" y1="444.65" x2="359.00" y2="444.65" stroke="#333" stroke-width="0.9"/>
<rect x="359.90" y="450.20" width="25.00" height="10.00" fill="#f5e5dc"/>
<rect x="389.35" y="450.20" width="25.00" height="10.00" fill="#7266a4"/>
<rect x="418.80" y="450.20" width="25.00" height="10.00" fill="#e2d4d2"/>
<text x="353.00" y="457.60" font-size="10.5" text-anchor="end" fill="#222" font-weight="normal">F. nucleatum B3</text>
<line x1="356.00" y1="456.20" x2="359.00" y2="456.20" stroke="#333" stroke-width="0.9"/>
<rect x="359.90" y="461.75" width="25.00" height="10.00" fill="#dccfd0"/>
<rect x="389.35" y="461.75" width="25.00" height="10.00" fill="#7a6eaa"/>
<rect x="418.80" y="461.75" width="25.00" height="10.00" fill="#dfd0d0"/>
<text x="353.00" y="469.15" font-size="10.5" text-anchor="end" fill="#222" font-weight="normal">F. nucleatum O1</text>
<line x1="356.00" y1="467.75" x2="359.00" y2="467.75" stroke="#333" stroke-width="0.9"/>
<line x1="372.40" y1="472.55" x2="372.40" y2="475.25" stroke="#333" stroke-width="0.9"/>
<text x="377.40" y="479.05" font-size="10.6" text-anchor="end" fill="#222" font-weight="normal" transform="rotate(-90 377.4 479.05)" textLength="34.0" lengthAdjust="spacingAndGlyphs">PANC-1</text>
<line x1="401.85" y1="472.55" x2="401.85" y2="475.25" stroke="#333" stroke-width="0.9"/>
<text x="406.85" y="479.05" font-size="10.6" text-anchor="end" fill="#222" font-weight="normal" transform="rotate(-90 406.84999999999997 479.05)" textLength="33.5" lengthAdjust="spacingAndGlyphs">AsPC-1</text>
<line x1="431.30" y1="472.55" x2="431.30" y2="475.25" stroke="#333" stroke-width="0.9"/>
<text x="436.30" y="479.05" font-size="10.6" text-anchor="end" fill="#222" font-weight="normal" transform="rotate(-90 436.29999999999995 479.05)" textLength="36.5" lengthAdjust="spacingAndGlyphs">Capan-2</text>
<rect x="450.80" y="308.70" width="10.90" height="84.80" fill="url(#gp)"/>
<line x1="459.70" y1="313.20" x2="461.70" y2="313.20" stroke="#fff" stroke-width="0.6"/>
<line x1="450.80" y1="313.20" x2="452.80" y2="313.20" stroke="#fff" stroke-width="0.6"/>
<text x="464.50" y="315.50" font-size="6.6" text-anchor="start" fill="#222" font-weight="normal">10</text>
<line x1="459.70" y1="323.01" x2="461.70" y2="323.01" stroke="#fff" stroke-width="0.6"/>
<line x1="450.80" y1="323.01" x2="452.80" y2="323.01" stroke="#fff" stroke-width="0.6"/>
<text x="464.50" y="325.31" font-size="6.6" text-anchor="start" fill="#222" font-weight="normal">20</text>
<line x1="459.70" y1="332.82" x2="461.70" y2="332.82" stroke="#fff" stroke-width="0.6"/>
<line x1="450.80" y1="332.82" x2="452.80" y2="332.82" stroke="#fff" stroke-width="0.6"/>
<text x="464.50" y="335.12" font-size="6.6" text-anchor="start" fill="#222" font-weight="normal">30</text>
<line x1="459.70" y1="342.63" x2="461.70" y2="342.63" stroke="#fff" stroke-width="0.6"/>
<line x1="450.80" y1="342.63" x2="452.80" y2="342.63" stroke="#fff" stroke-width="0.6"/>
<text x="464.50" y="344.93" font-size="6.6" text-anchor="start" fill="#222" font-weight="normal">40</text>
<line x1="459.70" y1="352.44" x2="461.70" y2="352.44" stroke="#fff" stroke-width="0.6"/>
<line x1="450.80" y1="352.44" x2="452.80" y2="352.44" stroke="#fff" stroke-width="0.6"/>
<text x="464.50" y="354.74" font-size="6.6" text-anchor="start" fill="#222" font-weight="normal">50</text>
<line x1="459.70" y1="362.25" x2="461.70" y2="362.25" stroke="#fff" stroke-width="0.6"/>
<line x1="450.80" y1="362.25" x2="452.80" y2="362.25" stroke="#fff" stroke-width="0.6"/>
<text x="464.50" y="364.55" font-size="6.6" text-anchor="start" fill="#222" font-weight="normal">60</text>
<line x1="459.70" y1="372.06" x2="461.70" y2="372.06" stroke="#fff" stroke-width="0.6"/>
<line x1="450.80" y1="372.06" x2="452.80" y2="372.06" stroke="#fff" stroke-width="0.6"/>
<text x="464.50" y="374.36" font-size="6.6" text-anchor="start" fill="#222" font-weight="normal">70</text>
<line x1="459.70" y1="381.87" x2="461.70" y2="381.87" stroke="#fff" stroke-width="0.6"/>
<line x1="450.80" y1="381.87" x2="452.80" y2="381.87" stroke="#fff" stroke-width="0.6"/>
<text x="464.50" y="384.17" font-size="6.6" text-anchor="start" fill="#222" font-weight="normal">80</text>
<line x1="459.70" y1="391.68" x2="461.70" y2="391.68" stroke="#fff" stroke-width="0.6"/>
<line x1="450.80" y1="391.68" x2="452.80" y2="391.68" stroke="#fff" stroke-width="0.6"/>
<text x="464.50" y="393.98" font-size="6.6" text-anchor="start" fill="#222" font-weight="normal">90</text>
<text x="478.50" y="355.50" font-size="10.1" text-anchor="middle" fill="#222" font-weight="normal" transform="rotate(90 478.5 355.5)">% Viability increase (relative to 5-FU)</text>
<rect x="602.50" y="266.00" width="24.80" height="10.00" fill="#c05080"/>
<rect x="631.70" y="266.00" width="24.80" height="10.00" fill="#c4507f"/>
<rect x="660.90" y="266.00" width="24.80" height="10.00" fill="#cc6c93"/>
<text x="597.00" y="273.40" font-size="10.5" text-anchor="end" fill="#222" font-weight="normal">C. freundii (H1)</text>
<line x1="600.00" y1="272.00" x2="603.00" y2="272.00" stroke="#333" stroke-width="0.9"/>
<rect x="602.50" y="277.55" width="24.80" height="10.00" fill="#c03a72"/>
<rect x="631.70" y="277.55" width="24.80" height="10.00" fill="#dc93ad"/>
<rect x="660.90" y="277.55" width="24.80" height="10.00" fill="#f7e3da"/>
<text x="597.00" y="284.95" font-size="10.5" text-anchor="end" fill="#222" font-weight="normal">K. oxytoca (H1)</text>
<line x1="600.00" y1="283.55" x2="603.00" y2="283.55" stroke="#333" stroke-width="0.9"/>
<rect x="602.50" y="289.10" width="24.80" height="10.00" fill="#c95883"/>
<rect x="631.70" y="289.10" width="24.80" height="10.00" fill="#c44e7e"/>
<rect x="660.90" y="289.10" width="24.80" height="10.00" fill="#d48aa6"/>
<text x="597.00" y="296.50" font-size="10.5" text-anchor="end" fill="#222" font-weight="normal">E. cloacae (H2)</text>
<line x1="600.00" y1="295.10" x2="603.00" y2="295.10" stroke="#333" stroke-width="0.9"/>
<rect x="602.50" y="300.65" width="24.80" height="10.00" fill="#d47399"/>
<rect x="631.70" y="300.65" width="24.80" height="10.00" fill="#c24c7c"/>
<rect x="660.90" y="300.65" width="24.80" height="10.00" fill="#e2b0c0"/>
<text x="597.00" y="308.05" font-size="10.5" text-anchor="end" fill="#222" font-weight="normal">E. faecium (H2)</text>
<line x1="600.00" y1="306.65" x2="603.00" y2="306.65" stroke="#333" stroke-width="0.9"/>
<rect x="602.50" y="312.20" width="24.80" height="10.00" fill="#cf6a91"/>
<rect x="631.70" y="312.20" width="24.80" height="10.00" fill="#c65380"/>
<rect x="660.90" y="312.20" width="24.80" height="10.00" fill="#f5e0da"/>
<text x="597.00" y="319.60" font-size="10.5" text-anchor="end" fill="#222" font-weight="normal">S. anginosus (H2)</text>
<line x1="600.00" y1="318.20" x2="603.00" y2="318.20" stroke="#333" stroke-width="0.9"/>
<rect x="602.50" y="323.75" width="24.80" height="10.00" fill="#c65380"/>
<rect x="631.70" y="323.75" width="24.80" height="10.00" fill="#b83670"/>
<rect x="660.90" y="323.75" width="24.80" height="10.00" fill="#d889a6"/>
<text x="597.00" y="331.15" font-size="10.5" text-anchor="end" fill="#222" font-weight="normal">K. aerogenes (L1)</text>
<line x1="600.00" y1="329.75" x2="603.00" y2="329.75" stroke="#333" stroke-width="0.9"/>
<rect x="602.50" y="335.30" width="24.80" height="10.00" fill="#d47d9f"/>
<rect x="631.70" y="335.30" width="24.80" height="10.00" fill="#be3f75"/>
<rect x="660.90" y="335.30" width="24.80" height="10.00" fill="#cc6a93"/>
<text x="597.00" y="342.70" font-size="10.5" text-anchor="end" fill="#222" font-weight="normal">E. faecalis (C1)</text>
<line x1="600.00" y1="341.30" x2="603.00" y2="341.30" stroke="#333" stroke-width="0.9"/>
<rect x="602.50" y="346.85" width="24.80" height="10.00" fill="#ecc2c8"/>
<rect x="631.70" y="346.85" width="24.80" height="10.00" fill="#c5507f"/>
<rect x="660.90" y="346.85" width="24.80" height="10.00" fill="#cd6d94"/>
<text x="597.00" y="354.25" font-size="10.5" text-anchor="end" fill="#222" font-weight="normal">S. maltophilia (C1)</text>
<line x1="600.00" y1="352.85" x2="603.00" y2="352.85" stroke="#333" stroke-width="0.9"/>
<rect x="602.50" y="358.40" width="24.80" height="10.00" fill="#fae8de"/>
<rect x="631.70" y="358.40" width="24.80" height="10.00" fill="#c65380"/>
<rect x="660.90" y="358.40" width="24.80" height="10.00" fill="#efcfcf"/>
<text x="597.00" y="365.80" font-size="10.5" text-anchor="end" fill="#222" font-weight="normal">E. cloacae (L2)</text>
<line x1="600.00" y1="364.40" x2="603.00" y2="364.40" stroke="#333" stroke-width="0.9"/>
<rect x="602.50" y="369.95" width="24.80" height="10.00" fill="#e4aebd"/>
<rect x="631.70" y="369.95" width="24.80" height="10.00" fill="#e0a7b8"/>
<rect x="660.90" y="369.95" width="24.80" height="10.00" fill="#c44e7d"/>
<text x="597.00" y="377.35" font-size="10.5" text-anchor="end" fill="#222" font-weight="normal">E. faecalis (L2)</text>
<line x1="600.00" y1="375.95" x2="603.00" y2="375.95" stroke="#333" stroke-width="0.9"/>
<rect x="602.50" y="381.50" width="24.80" height="10.00" fill="#e2a9ba"/>
<rect x="631.70" y="381.50" width="24.80" height="10.00" fill="#bd3d74"/>
<rect x="660.90" y="381.50" width="24.80" height="10.00" fill="#cb6590"/>
<text x="597.00" y="388.90" font-size="10.5" text-anchor="end" fill="#222" font-weight="normal">E. cloacae (C2)</text>
<line x1="600.00" y1="387.50" x2="603.00" y2="387.50" stroke="#333" stroke-width="0.9"/>
<rect x="602.50" y="393.05" width="24.80" height="10.00" fill="#c14878"/>
<rect x="631.70" y="393.05" width="24.80" height="10.00" fill="#b9356f"/>
<rect x="660.90" y="393.05" width="24.80" height="10.00" fill="#d888a5"/>
<text x="597.00" y="400.45" font-size="10.5" text-anchor="end" fill="#222" font-weight="normal">K. pneumoniae (C2)</text>
<line x1="600.00" y1="399.05" x2="603.00" y2="399.05" stroke="#333" stroke-width="0.9"/>
<rect x="602.50" y="404.60" width="24.80" height="10.00" fill="#c65381"/>
<rect x="631.70" y="404.60" width="24.80" height="10.00" fill="#ba3870"/>
<rect x="660.90" y="404.60" width="24.80" height="10.00" fill="#dc91ac"/>
<text x="597.00" y="412.00" font-size="10.5" text-anchor="end" fill="#222" font-weight="normal">S. anginosus (C2)</text>
<line x1="600.00" y1="410.60" x2="603.00" y2="410.60" stroke="#333" stroke-width="0.9"/>
<rect x="602.50" y="416.15" width="24.80" height="10.00" fill="#c85a86"/>
<rect x="631.70" y="416.15" width="24.80" height="10.00" fill="#d0719a"/>
<rect x="660.90" y="416.15" width="24.80" height="10.00" fill="#f0cccc"/>
<text x="597.00" y="423.55" font-size="10.5" text-anchor="end" fill="#222" font-weight="normal">E. coli 25922</text>
<line x1="600.00" y1="422.15" x2="603.00" y2="422.15" stroke="#333" stroke-width="0.9"/>
<rect x="602.50" y="427.70" width="24.80" height="10.00" fill="#d27699"/>
<rect x="631.70" y="427.70" width="24.80" height="10.00" fill="#c65280"/>
<rect x="660.90" y="427.70" width="24.80" height="10.00" fill="#dc93ac"/>
<text x="597.00" y="435.10" font-size="10.5" text-anchor="end" fill="#222" font-weight="normal">E. coli d12</text>
<line x1="600.00" y1="433.70" x2="603.00" y2="433.70" stroke="#333" stroke-width="0.9"/>
<rect x="602.50" y="439.25" width="24.80" height="10.00" fill="#f2d2cf"/>
<rect x="631.70" y="439.25" width="24.80" height="10.00" fill="#c24a7a"/>
<rect x="660.90" y="439.25" width="24.80" height="10.00" fill="#f5ddd6"/>
<text x="597.00" y="446.65" font-size="10.5" text-anchor="end" fill="#222" font-weight="normal">F. nucleatum B2</text>
<line x1="600.00" y1="445.25" x2="603.00" y2="445.25" stroke="#333" stroke-width="0.9"/>
<rect x="602.50" y="450.80" width="24.80" height="10.00" fill="#e8b8c2"/>
<rect x="631.70" y="450.80" width="24.80" height="10.00" fill="#c44e7d"/>
<rect x="660.90" y="450.80" width="24.80" height="10.00" fill="#f0cdcc"/>
<text x="597.00" y="458.20" font-size="10.5" text-anchor="end" fill="#222" font-weight="normal">F. nucleatum B3</text>
<line x1="600.00" y1="456.80" x2="603.00" y2="456.80" stroke="#333" stroke-width="0.9"/>
<rect x="602.50" y="462.35" width="24.80" height="10.00" fill="#fbe8dd"/>
<rect x="631.70" y="462.35" width="24.80" height="10.00" fill="#c24a7b"/>
<rect x="660.90" y="462.35" width="24.80" height="10.00" fill="#dc8caa"/>
<text x="597.00" y="469.75" font-size="10.5" text-anchor="end" fill="#222" font-weight="normal">F. nucleatum O1</text>
<line x1="600.00" y1="468.35" x2="603.00" y2="468.35" stroke="#333" stroke-width="0.9"/>
<line x1="614.90" y1="473.15" x2="614.90" y2="475.85" stroke="#333" stroke-width="0.9"/>
<text x="619.90" y="479.65" font-size="10.6" text-anchor="end" fill="#222" font-weight="normal" transform="rotate(-90 619.9 479.65000000000003)" textLength="34.0" lengthAdjust="spacingAndGlyphs">PANC-1</text>
<line x1="644.10" y1="473.15" x2="644.10" y2="475.85" stroke="#333" stroke-width="0.9"/>
<text x="649.10" y="479.65" font-size="10.6" text-anchor="end" fill="#222" font-weight="normal" transform="rotate(-90 649.1 479.65000000000003)" textLength="33.5" lengthAdjust="spacingAndGlyphs">AsPC-1</text>
<line x1="673.30" y1="473.15" x2="673.30" y2="475.85" stroke="#333" stroke-width="0.9"/>
<text x="678.30" y="479.65" font-size="10.6" text-anchor="end" fill="#222" font-weight="normal" transform="rotate(-90 678.3 479.65000000000003)" textLength="36.5" lengthAdjust="spacingAndGlyphs">Capan-2</text>
<rect x="693.10" y="308.70" width="10.90" height="84.50" fill="url(#gr)"/>
<line x1="702.00" y1="315.90" x2="704.00" y2="315.90" stroke="#fff" stroke-width="0.6"/>
<line x1="693.10" y1="315.90" x2="695.10" y2="315.90" stroke="#fff" stroke-width="0.6"/>
<text x="706.80" y="318.20" font-size="6.6" text-anchor="start" fill="#222" font-weight="normal">10</text>
<line x1="702.00" y1="329.80" x2="704.00" y2="329.80" stroke="#fff" stroke-width="0.6"/>
<line x1="693.10" y1="329.80" x2="695.10" y2="329.80" stroke="#fff" stroke-width="0.6"/>
<text x="706.80" y="332.10" font-size="6.6" text-anchor="start" fill="#222" font-weight="normal">20</text>
<line x1="702.00" y1="343.70" x2="704.00" y2="343.70" stroke="#fff" stroke-width="0.6"/>
<line x1="693.10" y1="343.70" x2="695.10" y2="343.70" stroke="#fff" stroke-width="0.6"/>
<text x="706.80" y="346.00" font-size="6.6" text-anchor="start" fill="#222" font-weight="normal">30</text>
<line x1="702.00" y1="357.60" x2="704.00" y2="357.60" stroke="#fff" stroke-width="0.6"/>
<line x1="693.10" y1="357.60" x2="695.10" y2="357.60" stroke="#fff" stroke-width="0.6"/>
<text x="706.80" y="359.90" font-size="6.6" text-anchor="start" fill="#222" font-weight="normal">40</text>
<line x1="702.00" y1="371.50" x2="704.00" y2="371.50" stroke="#fff" stroke-width="0.6"/>
<line x1="693.10" y1="371.50" x2="695.10" y2="371.50" stroke="#fff" stroke-width="0.6"/>
<text x="706.80" y="373.80" font-size="6.6" text-anchor="start" fill="#222" font-weight="normal">50</text>
<line x1="702.00" y1="385.40" x2="704.00" y2="385.40" stroke="#fff" stroke-width="0.6"/>
<line x1="693.10" y1="385.40" x2="695.10" y2="385.40" stroke="#fff" stroke-width="0.6"/>
<text x="706.80" y="387.70" font-size="6.6" text-anchor="start" fill="#222" font-weight="normal">60</text>
<text x="725.10" y="365.20" font-size="10.1" text-anchor="middle" fill="#222" font-weight="normal" transform="rotate(90 725.1 365.2)">% Viability increase (relative to Gemcitabine)</text>
</svg></body></html>
